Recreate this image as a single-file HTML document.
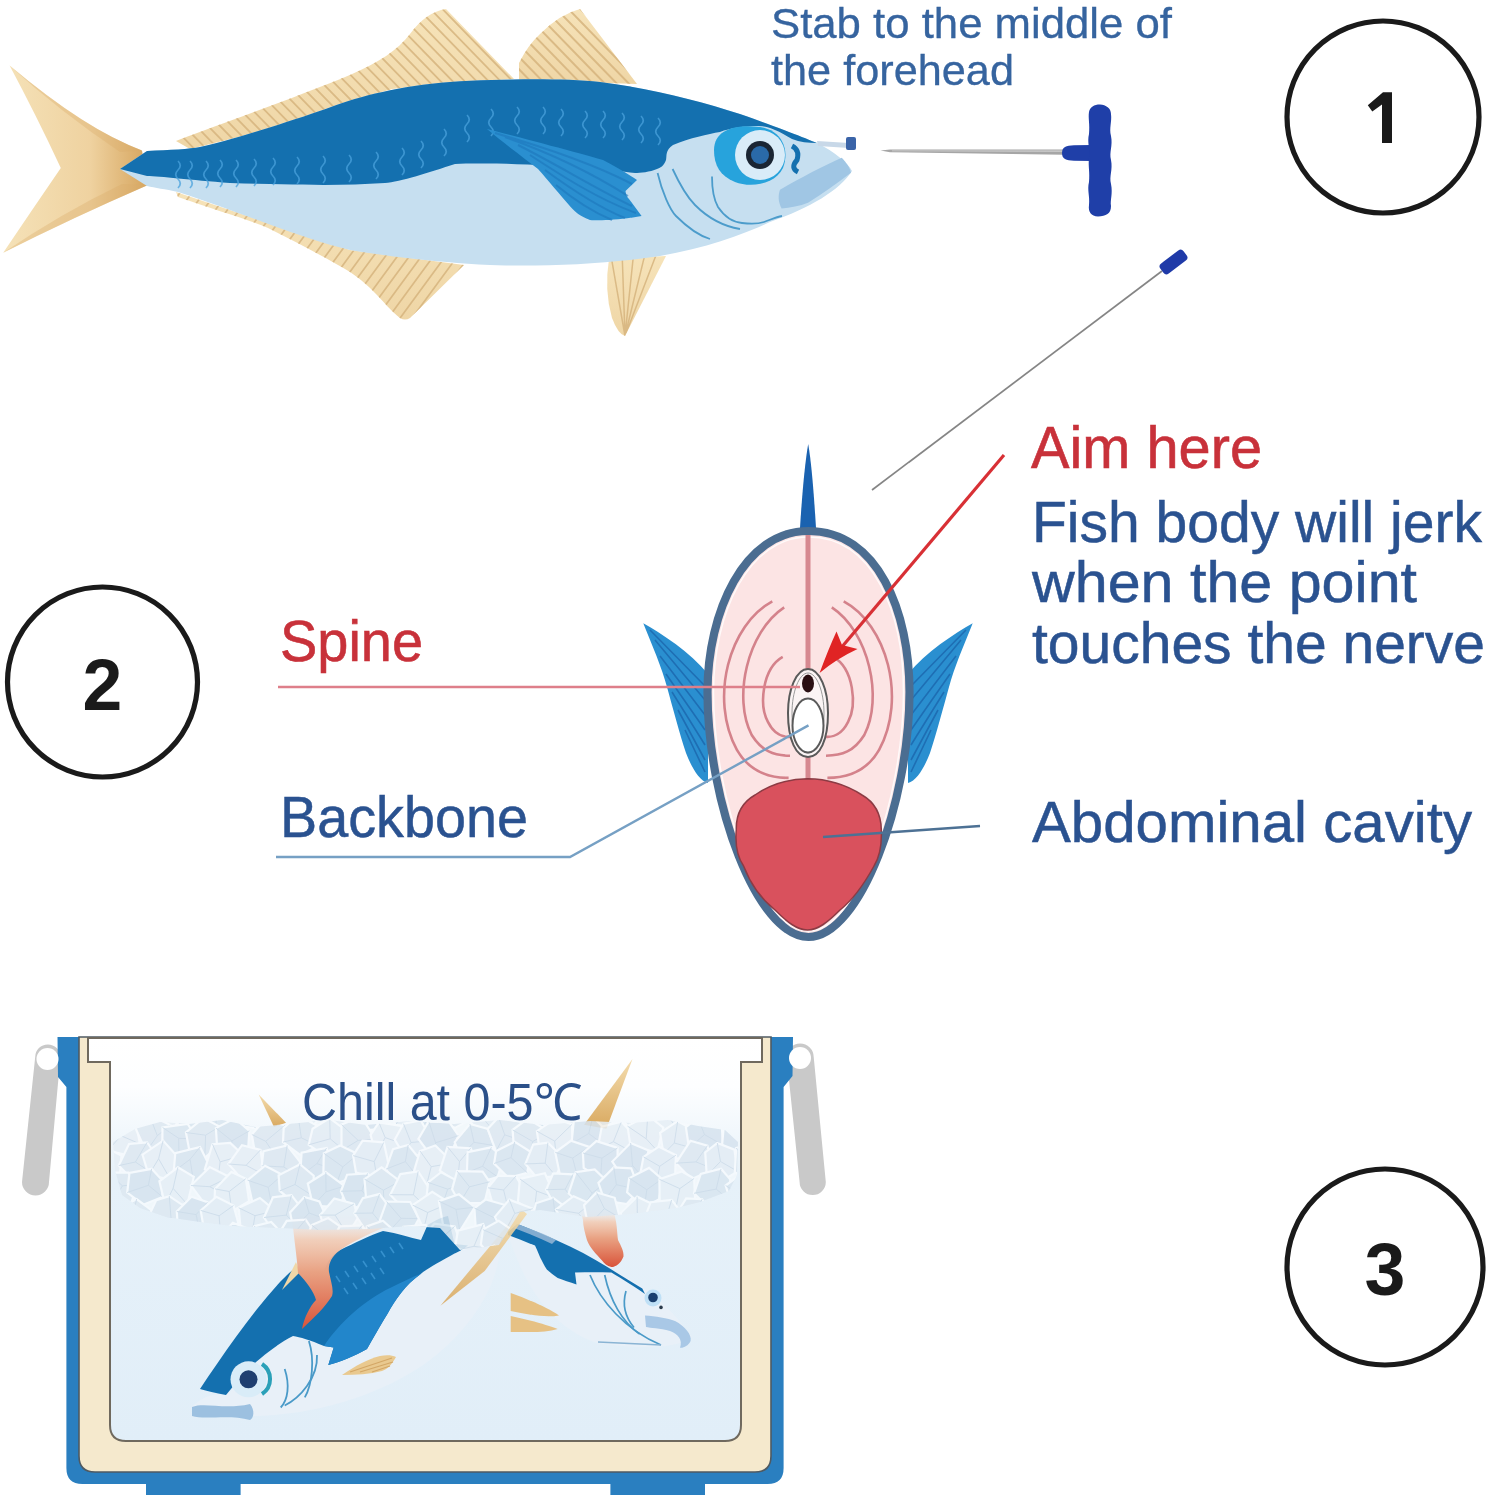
<!DOCTYPE html>
<html><head><meta charset="utf-8">
<style>
html,body{margin:0;padding:0;background:#fff;width:1490px;height:1500px;overflow:hidden}
svg{display:block}
text{font-family:"Liberation Sans",sans-serif}
</style></head>
<body>
<svg width="1490" height="1500" viewBox="0 0 1490 1500">
<!-- ===== Step circles ===== -->
<g fill="none" stroke="#1a1a1a" stroke-width="5.2">
<circle cx="1383" cy="117" r="96"/>
<circle cx="102.5" cy="682" r="95"/>
<circle cx="1385" cy="1267" r="98"/>
</g>
<g font-family="Liberation Sans" font-weight="bold" fill="#1a1a1a" font-size="70" text-anchor="middle">
<text x="102.5" y="709.5" font-size="71.5">2</text>
<text x="1385" y="1295" font-size="73.5">3</text>
</g>


<!-- ===== Top fish ===== -->
<defs>
<linearGradient id="tailg" x1="0" y1="0" x2="1" y2="0">
<stop offset="0" stop-color="#f5e2b8"/><stop offset="0.6" stop-color="#efd2a0"/><stop offset="1" stop-color="#d6a55e"/>
</linearGradient>
<linearGradient id="fing" x1="0" y1="0" x2="0" y2="1">
<stop offset="0" stop-color="#f6e3b9"/><stop offset="1" stop-color="#efd6a6"/>
</linearGradient>
</defs>
<g id="topfish">
<!-- tail -->
<path d="M142,150.4 Q86,130 9.6,65.6 Q36,115 60.8,168 Q32,210 3.2,252.8 Q72,218 148,185 Z" fill="url(#tailg)"/>
<path d="M142,150.4 Q86,130 9.6,65.6 Q60,112 120,152 Z M148,185 Q72,218 3.2,252.8 Q60,214 122,184 Z" fill="#d9ac6a" opacity="0.35"/>
<!-- dorsal strip + first dorsal -->
<path d="M176,141 C220,124 300,96 351,74.5 C378,63 398,50 410,34 Q426,12 446,9 L514,79 L450,83 L392,89 L331,107 L271,129 L190,149 Z" fill="url(#fing)"/>
<!-- second dorsal -->
<path d="M519,63 Q528,45 540,34 Q560,14 580,9 L637,84 L519,80 Z" fill="url(#fing)"/>
<!-- anal strip -->
<path d="M176,192 L178,197 C215,210 250,220 268,228 C300,244 330,260 350,272 C362,280 368,286 373,291 C384,302 392,312 400,318 Q405,321 410,318 L464,265 L350,250 Z" fill="url(#fing)"/>
<!-- pelvic -->
<path d="M609,259 Q604,290 612,318 Q618,334 625,336 L666,256 Z" fill="url(#fing)"/>
<!-- fin rays -->
<clipPath id="cd1"><path d="M176,141 C220,124 300,96 351,74.5 C378,63 398,50 410,34 Q426,12 446,9 L514,79 L450,83 L392,89 L331,107 L271,129 L190,149 Z"/></clipPath>
<clipPath id="cd2"><path d="M519,63 Q528,45 540,34 Q560,14 580,9 L637,84 L519,80 Z"/></clipPath>
<clipPath id="can"><path d="M176,192 L178,197 C215,210 250,220 268,228 C300,244 330,260 350,272 C362,280 368,286 373,291 C384,302 392,312 400,318 Q405,321 410,318 L464,265 L350,250 Z"/></clipPath>
<clipPath id="cpv"><path d="M609,259 Q604,290 612,318 Q618,334 625,336 L666,256 Z"/></clipPath>
<g stroke="#d6b47e" fill="none" opacity="0.85">
<path clip-path="url(#cd1)" stroke-width="1.8" d="M40.0,-10 l170,175 M52.0,-10 l170,175 M64.0,-10 l170,175 M76.0,-10 l170,175 M88.0,-10 l170,175 M100.0,-10 l170,175 M112.0,-10 l170,175 M124.0,-10 l170,175 M136.0,-10 l170,175 M148.0,-10 l170,175 M160.0,-10 l170,175 M172.0,-10 l170,175 M184.0,-10 l170,175 M196.0,-10 l170,175 M208.0,-10 l170,175 M220.0,-10 l170,175 M232.0,-10 l170,175 M244.0,-10 l170,175 M256.0,-10 l170,175 M268.0,-10 l170,175 M280.0,-10 l170,175 M292.0,-10 l170,175 M304.0,-10 l170,175 M316.0,-10 l170,175 M328.0,-10 l170,175 M340.0,-10 l170,175 M352.0,-10 l170,175 M364.0,-10 l170,175 M376.0,-10 l170,175 M388.0,-10 l170,175 M400.0,-10 l170,175 M412.0,-10 l170,175 M424.0,-10 l170,175 M436.0,-10 l170,175 M448.0,-10 l170,175 M460.0,-10 l170,175 M472.0,-10 l170,175 M484.0,-10 l170,175 M496.0,-10 l170,175 M508.0,-10 l170,175 M520.0,-10 l170,175 M532.0,-10 l170,175"/>
<path clip-path="url(#cd2)" stroke-width="2" d="M430.0,-10 l100,103 M442.0,-10 l100,103 M454.0,-10 l100,103 M466.0,-10 l100,103 M478.0,-10 l100,103 M490.0,-10 l100,103 M502.0,-10 l100,103 M514.0,-10 l100,103 M526.0,-10 l100,103 M538.0,-10 l100,103 M550.0,-10 l100,103 M562.0,-10 l100,103 M574.0,-10 l100,103 M586.0,-10 l100,103 M598.0,-10 l100,103 M610.0,-10 l100,103 M622.0,-10 l100,103 M634.0,-10 l100,103"/>
<path clip-path="url(#can)" stroke-width="1.7" d="M60.0,340 l110,-150 M72.0,340 l110,-150 M84.0,340 l110,-150 M96.0,340 l110,-150 M108.0,340 l110,-150 M120.0,340 l110,-150 M132.0,340 l110,-150 M144.0,340 l110,-150 M156.0,340 l110,-150 M168.0,340 l110,-150 M180.0,340 l110,-150 M192.0,340 l110,-150 M204.0,340 l110,-150 M216.0,340 l110,-150 M228.0,340 l110,-150 M240.0,340 l110,-150 M252.0,340 l110,-150 M264.0,340 l110,-150 M276.0,340 l110,-150 M288.0,340 l110,-150 M300.0,340 l110,-150 M312.0,340 l110,-150 M324.0,340 l110,-150 M336.0,340 l110,-150 M348.0,340 l110,-150 M360.0,340 l110,-150 M372.0,340 l110,-150 M384.0,340 l110,-150 M396.0,340 l110,-150 M408.0,340 l110,-150 M420.0,340 l110,-150 M432.0,340 l110,-150 M444.0,340 l110,-150 M456.0,340 l110,-150 M468.0,340 l110,-150 M480.0,340 l110,-150 M492.0,340 l110,-150 M504.0,340 l110,-150"/>
<path clip-path="url(#cpv)" stroke-width="1.5" d="M625,336 L610,250 M625,336 L622,250 M625,336 L634,250 M625,336 L646,250 M625,336 L658,250"/>
</g>
<!-- body light -->
<path d="M120,169 L147,151 C170,150 190,149 200,147 C240,138 300,118 331,107 C360,96 400,86 450,82 C500,79 560,78 600,82 C650,88 700,101 740,114 C780,128 805,138 817,143 C835,152 848,163 852,171 C840,190 810,208 770,222 C740,236 705,248 660,256 C610,264 540,267 490,265 C430,262 380,255 350,250 C300,238 240,212 178,192 C165,189 155,188 147,186 Z" fill="#c6dff0"/>
<!-- body blue -->
<path d="M120,169 L147,151 C170,150 190,149 200,147 C240,138 300,118 331,107 C360,96 400,86 450,82 C500,79 560,78 600,82 C650,88 700,101 740,114 C780,128 805,138 817,143 C808,143 800,142 792,139 C780,132 770,126 758,126 C745,126 730,128 720,132 C708,134 690,138 673,145 C665,150 667,156 666,160 C664,166 660,168 657,169 C650,172 640,173 635,173 C610,170 580,167 560,166 C520,164 480,163 455,164 C430,172 400,182 385,183 C340,186 300,185 230,183 C190,180 160,176 147,176 Z" fill="#1470af"/>
<!-- scale squiggles -->
<g fill="none" stroke="#4aa2dc" stroke-width="1.7" opacity="0.75"><path d="M178,161 q4.5,4.5 0,9 q-4.5,4.5 0,9 q4.5,4.5 0,9 M190,161 q4.5,4.5 0,9 q-4.5,4.5 0,9 q4.5,4.5 0,9 M206,161 q4.5,4.5 0,9 q-4.5,4.5 0,9 q4.5,4.5 0,9 M220,160 q4.5,4.5 0,9 q-4.5,4.5 0,9 q4.5,4.5 0,9 M236,160 q4.5,4.5 0,9 q-4.5,4.5 0,9 q4.5,4.5 0,9 M254,159 q4.5,4.5 0,9 q-4.5,4.5 0,9 q4.5,4.5 0,9 M273,158 q4.5,4.5 0,9 q-4.5,4.5 0,9 q4.5,4.5 0,9 M297,157 q4.5,4.5 0,9 q-4.5,4.5 0,9 q4.5,4.5 0,9 M323,156 q4.5,4.5 0,9 q-4.5,4.5 0,9 q4.5,4.5 0,9 M349,155 q4.5,4.5 0,9 q-4.5,4.5 0,9 q4.5,4.5 0,9 M376,152 q4.5,4.5 0,9 q-4.5,4.5 0,9 q4.5,4.5 0,9 M402,148 q4.5,4.5 0,9 q-4.5,4.5 0,9 q4.5,4.5 0,9 M421,141 q4.5,4.5 0,9 q-4.5,4.5 0,9 q4.5,4.5 0,9 M444,129 q4.5,4.5 0,9 q-4.5,4.5 0,9 q4.5,4.5 0,9 M467,115 q4.5,4.5 0,9 q-4.5,4.5 0,9 q4.5,4.5 0,9 M491,109 q4.5,4.5 0,9 q-4.5,4.5 0,9 q4.5,4.5 0,9 M517,107 q4.5,4.5 0,9 q-4.5,4.5 0,9 q4.5,4.5 0,9 M543,107 q4.5,4.5 0,9 q-4.5,4.5 0,9 q4.5,4.5 0,9 M561,109 q4.5,4.5 0,9 q-4.5,4.5 0,9 q4.5,4.5 0,9 M585,111 q4.5,4.5 0,9 q-4.5,4.5 0,9 q4.5,4.5 0,9 M603,111 q4.5,4.5 0,9 q-4.5,4.5 0,9 q4.5,4.5 0,9 M622,113 q4.5,4.5 0,9 q-4.5,4.5 0,9 q4.5,4.5 0,9 M641,116 q4.5,4.5 0,9 q-4.5,4.5 0,9 q4.5,4.5 0,9 M658,118 q4.5,4.5 0,9 q-4.5,4.5 0,9 q4.5,4.5 0,9"/></g>
<!-- pectoral fin -->
<path d="M487,129 C530,140 575,152 603,160 C615,166 628,174 637,180 L625.5,191 C626,195 627,197 629,199 L641.6,216 C620,220 600,221 590,220 C580,216 575,212 570.7,207 C560,195 548,180 538,169 C520,155 500,140 487,129 Z" fill="#2a8fd0"/>
<g stroke="#1b74ba" stroke-width="2" fill="none" opacity="0.55">
<path d="M495,133 C540,146 590,162 632,184 M505,137 C550,153 595,175 628,196 M518,145 C558,165 598,190 632,206 M530,155 C565,178 600,200 636,213 M545,170 C575,192 605,210 625,218 M556,185 C578,203 600,215 612,220"/>
</g>
<!-- head details -->
<path d="M657.6,173 C662,192 670,210 676,216 C688,228 700,236 710,239 M672.6,169 C680,185 688,198 695,205 C708,218 722,226 740,229" fill="none" stroke="#4c9ccb" stroke-width="1.8"/>
<path d="M712,176.5 C712,190 714,200 718,207 C724,216 732,222 742,223 C750,224 758,224 764,222 C770,220 776,217 782,216" fill="none" stroke="#4c9ccb" stroke-width="1.8"/>
<path d="M780,189.7 C800,178 825,165 841.8,157.7 C846,162 850,168 851,172.8 C836,184 822,194 808,202.8 C800,206 790,208 781.6,208.5 C778,202 778,195 780,189.7 Z" fill="#a0c6e4"/>
<!-- eye -->
<path d="M714,150 C714,130 735,124 760,127 C782,130 790,150 783,168 C775,185 750,188 735,182 C720,176 714,165 714,150 Z" fill="#27a3dc"/>
<circle cx="760" cy="155" r="25" fill="#d9ecf8"/>
<circle cx="760" cy="155" r="14" fill="#1a2533"/>
<circle cx="760" cy="155" r="9" fill="#2a6aa8"/>
<path d="M792,146 Q800,150 797,160 Q790,168 798,172" fill="none" stroke="#1470af" stroke-width="5"/>
<!-- pin -->
<path d="M817,141 L849,143 L849,148 L818,146 Z" fill="#c8d8e8"/>
<rect x="846" y="137" width="10" height="13" rx="2" fill="#3a64a8"/>
</g>


<!-- ===== T-handle spike ===== -->
<g id="spike">
<path d="M880.5,150.5 L890,149.6 L1064,149.6 L1064,154.8 L890,152.2 Z" fill="#a6a6a6"/>
<path d="M892,150.4 L1064,150.6 L1064,151.8 L892,151.2 Z" fill="#d2d2d2"/>
<path d="M1062,153 C1062,147 1066,145.5 1074,145.3 L1092,145 L1092,161 L1074,160.8 C1066,160.5 1062,159 1062,153 Z" fill="#1f3fa8"/>
<path d="M1100,104.5 C1106,105 1111,108 1111,114 C1112,122 1109,128 1111,136 C1113,146 1109,152 1111,160 C1113,170 1109,176 1111,184 C1113,194 1110,200 1111,206 C1111,214 1106,216 1098,216.5 C1091,216 1088,212 1089,205 C1090,196 1087,190 1089,182 C1090,172 1088,166 1089,158 C1090,148 1087,142 1089,134 C1090,124 1088,118 1089,112 C1090,107 1094,104.5 1100,104.5 Z" fill="#1f3fa8"/>
</g>
<!-- ===== wire ===== -->
<line x1="872" y1="490" x2="1162" y2="271" stroke="#858585" stroke-width="1.7"/>
<rect x="-14.5" y="-6.3" width="29" height="12.6" rx="3.8" fill="#1f3aa8" transform="translate(1173.5,262) rotate(-37)"/>

<!-- ===== Cross section ===== -->
<g id="xsec">
<!-- fins -->
<path d="M643.3,623.3 C662,634 690,652 708,674 L708,783 C699,781 691,766 686,753 C680,735 672,705 667,687 C662,668 652,645 643.3,623.3 Z" fill="#2a8fd0"/>
<path d="M972.7,623.3 C954,634 926,652 908,674 L908,783 C917,781 925,766 930,753 C936,735 944,705 949,687 C954,668 964,645 972.7,623.3 Z" fill="#2a8fd0"/>
<g stroke="#1d6ab0" stroke-width="1.6" fill="none" opacity="0.9">
<path d="M655,640 L705,700 M660,656 L705,715 M666,674 L705,730 M672,692 L705,745 M678,710 L705,760 M685,730 L705,772 M650,630 L705,686"/>
<path d="M961,640 L911,700 M956,656 L911,715 M950,674 L911,730 M944,692 L911,745 M938,710 L911,760 M931,730 L911,772 M966,630 L911,686"/>
</g>
<!-- dorsal spike -->
<path d="M800,528 C802,495 805,462 808.2,444 C811.4,462 814,495 816,528 Z" fill="#1a62b0"/>
<!-- egg body -->
<path d="M808.5,531 C878,531 909.5,612 909.5,692 C909.5,802 860,937 808.5,937 C757,937 707.5,802 707.5,692 C707.5,612 744,531 808.5,531 Z" fill="#fce4e4" stroke="#4b6d91" stroke-width="8.2"/>
<path d="M808.5,537 C874,537 903.5,614 903.5,692 C903.5,799 857,931 808.5,931 C760,931 713.5,799 713.5,692 C713.5,614 748,537 808.5,537 Z" fill="none" stroke="#ffffff" stroke-width="1.5" opacity="0.8"/>
<!-- red arcs -->
<g fill="none" stroke="#d4828b" stroke-width="2.6">
<path d="M772.3,601.4 C729.5,624.3 708.9,698.1 736.9,749.8 C748.7,770.5 766.4,777.9 788.6,777.9"/>
<path d="M784.2,607.3 C747.2,631.7 732.5,698.1 751.7,735 C762,751.3 773.8,755.7 790,755.7"/>
<path d="M782.7,656.8 C762,668.6 759,705.5 767.9,721.8 C773.8,733.6 782.7,738 791.5,736.6"/>
<path d="M843.7,601.4 C886.5,624.3 907.1,698.1 879.1,749.8 C867.3,770.5 849.6,777.9 827.4,777.9"/>
<path d="M831.8,607.3 C868.8,631.7 883.5,698.1 864.3,735 C854,751.3 842.2,755.7 826,755.7"/>
<path d="M833.3,656.8 C854,668.6 857,705.5 848.1,721.8 C842.2,733.6 833.3,738 824.5,736.6"/>
</g>
<line x1="808" y1="535" x2="808" y2="780" stroke="#d68890" stroke-width="5"/>
<!-- abdominal cavity -->
<path d="M807.6,778.8 C830,779 848,786 862,795 C876,803 881,815 881.3,829.5 C882,845 879,858 874,866 C862,888 850,902 840,910 C828,922 818,930 807.6,930 C797,930 787,922 775,910 C765,902 752,888 743.6,866 C738,858 735,845 736.3,829.5 C736,815 741,803 755,795 C768,786 786,779 807.6,778.8 Z" fill="#d9515d" stroke="#8c3b44" stroke-width="1.5"/>
<!-- canal -->
<path d="M808,669 C820,669 828,690 828,713 C828,740 820,757 808,757 C796,757 788,740 788,713 C788,690 796,669 808,669 Z" fill="#fbf4f4" stroke="#5a5a5a" stroke-width="2"/>
<path d="M808,673 C817,673 824,692 824,713 C824,737 817,753 808,753 C799,753 792,737 792,713 C792,692 799,673 808,673 Z" fill="none" stroke="#9a9a9a" stroke-width="1"/>
<ellipse cx="808" cy="725.5" rx="15.5" ry="27" fill="#ffffff" stroke="#5a5a5a" stroke-width="2"/>
<ellipse cx="808" cy="683.5" rx="6" ry="9" fill="#2a0f12"/>
</g>
<!-- leader lines -->
<line x1="278" y1="687" x2="800" y2="687" stroke="#de7f8a" stroke-width="2.4"/>
<path d="M808.5,725.4 L570,857 L276,857" fill="none" stroke="#76a0c4" stroke-width="2.4"/>
<line x1="823" y1="837" x2="980" y2="826" stroke="#4d7194" stroke-width="2.5"/>
<!-- red arrow -->
<line x1="1004" y1="455" x2="841" y2="648" stroke="#d83035" stroke-width="3.2"/>
<path d="M819.6,673 Q828,650 836.5,631.5 L842,645 L857.5,649 Q836,659 819.6,673 Z" fill="#e02424"/>


<!-- ===== Cooler ===== -->
<defs>
<linearGradient id="water" x1="0" y1="0" x2="0" y2="1">
<stop offset="0" stop-color="#ffffff"/><stop offset="0.12" stop-color="#fdfeff"/><stop offset="0.35" stop-color="#e6f1f9"/><stop offset="1" stop-color="#e1eef8"/>
</linearGradient>
<linearGradient id="flame" x1="0" y1="0" x2="0" y2="1">
<stop offset="0" stop-color="#f8e4d6" stop-opacity="0"/><stop offset="0.22" stop-color="#f3c9b0" stop-opacity="0.85"/><stop offset="0.5" stop-color="#e9a283"/><stop offset="1" stop-color="#d9543a"/>
</linearGradient>
<linearGradient id="spikeg" x1="0" y1="0" x2="0" y2="1">
<stop offset="0" stop-color="#f3dcae"/><stop offset="1" stop-color="#d9a960"/>
</linearGradient>
</defs>
<g id="cooler">
<!-- handles -->
<g fill="#c9c9c9">
<path d="M35.2,1057 A12.6,12.6 0 0 1 60.4,1057 L49,1182 A13.5,13.5 0 0 1 22,1182 Z"/>
<path d="M786.6,1057 A13.5,13.5 0 0 1 813.7,1057 L825.8,1182 A13.1,13.1 0 0 1 799.6,1182 Z"/>
</g>
<!-- blue shell -->
<path d="M57.5,1037 L793,1037 L792.5,1076 L783.6,1087 L783.6,1468 Q783.6,1484 767.6,1484 L82.4,1484 Q66.4,1484 66.4,1468 L66.4,1087 L58,1077 Z" fill="#2a7fc0"/>
<rect x="146" y="1480" width="94.6" height="15" fill="#2a7fc0"/>
<rect x="610.4" y="1480" width="94.6" height="15" fill="#2a7fc0"/>
<circle cx="47.5" cy="1059" r="11" fill="#ffffff"/>
<circle cx="800" cy="1058" r="11" fill="#ffffff"/>
<!-- cream wall -->
<path d="M79,1037 L771,1037 L771,1456 Q771,1472 755,1472 L95,1472 Q79,1472 79,1456 Z" fill="#f5e9cd" stroke="#4f5a62" stroke-width="1.6"/>
<!-- interior -->
<path d="M88,1038 L88,1062 L110,1062 L110,1425 Q110,1441 126,1441 L725,1441 Q741,1441 741,1425 L741,1062 L762,1062 L762,1038 Z" fill="url(#water)" stroke="#6f695e" stroke-width="2"/>
<!-- spikes above ice -->
<path d="M258.7,1094.5 L286,1122.7 L274,1127 Z" fill="url(#spikeg)"/>
<path d="M632.5,1059 L606.4,1128.7 L584,1124.7 Z" fill="url(#spikeg)"/>
<!-- fish 1 (diving left) -->
<path d="M192,1407 C200,1398 215,1392 226,1395 C240,1385 270,1345 293,1335 C310,1335 318,1340 324,1346 C350,1320 390,1290 421,1274 C440,1262 455,1250 466,1245 L500,1232 C505,1280 470,1330 430,1360 C390,1390 340,1405 300,1412 C260,1418 220,1418 192,1407 Z" fill="#e8f0f8"/>
<path d="M200,1389 C222,1356 250,1315 280,1282 C286,1276 292,1270 297,1267 L314,1292 L328,1262 C332,1256 336,1252 340,1250 C355,1243 370,1235 383,1231 C398,1233 410,1238 421,1240 L427.6,1225 C436,1220 442,1217 448,1216 L454.5,1244 L468,1245.5 C462,1250 458,1252 454.5,1253.6 C440,1262 428,1268 421,1273.7 C405,1285 395,1300 387.4,1314 C380,1326 372,1340 367,1349 C355,1356 340,1362 328.3,1365 L333.7,1347.5 L324,1346 C310,1340 300,1337 293,1336 C275,1345 258,1360 246,1371 C238,1380 232,1388 226,1395 C215,1393 207,1391 200,1389 Z" fill="#1470af"/>
<path d="M324,1346 C340,1322 365,1300 390,1288 C402,1282 412,1277 421,1273.7 C405,1285 395,1300 387.4,1314 C380,1326 372,1340 367,1349 C355,1356 340,1362 328.3,1365 L333.7,1347.5 Z" fill="#2286cb"/>
<g fill="none" stroke="#3f9ad6" stroke-width="1.6" opacity="0.8">
<path d="M336,1276 l4,6 M345,1271 l4,6 M354,1266 l4,6 M363,1261 l4,6 M372,1256 l4,6 M381,1251 l4,6 M390,1247 l4,6 M399,1243 l4,6 M344,1288 l4,6 M353,1283 l4,6 M362,1278 l4,6 M371,1273 l4,6 M380,1268 l4,6"/>
</g>
<!-- fish1 gill lines -->
<g fill="none" stroke="#4a9ac8" stroke-width="1.8">
<path d="M308.9,1341 C315,1360 312,1385 304.8,1397.4"/>
<path d="M317,1355 C318,1378 300,1398 284.7,1405.5"/>
<path d="M284.7,1369 C290,1385 288,1400 280.7,1407.5"/>
</g>
<path d="M192,1407 C205,1402 225,1410 250,1404 C255,1410 254,1418 250,1420 C230,1414 205,1420 192,1416 Z" fill="#9cc0e0"/>
<circle cx="248.5" cy="1379.3" r="18" fill="#d9ecf8"/>
<path d="M262,1364 A18,18 0 0 1 262,1394" fill="none" stroke="#2aa0b8" stroke-width="4"/>
<circle cx="248.5" cy="1379.3" r="9" fill="#1f3f70"/>
<!-- fish 2 (diving right) -->
<path d="M510.5,1236 C540,1250 580,1262 611,1270 C640,1282 665,1300 691.7,1337 C680,1348 640,1350 597,1343 C560,1330 530,1300 510,1240 Z" fill="#e8f0f8"/>
<path d="M508,1232 L517.4,1224 C530,1229 545,1235 556.4,1240.3 C575,1248 592,1258 607.4,1267 C620,1275 632,1282 642.3,1288.6 L645,1294 C635,1287 622,1279 611.4,1272.5 C600,1272 588,1272 575,1272.5 L576.5,1284.6 C570,1282 563,1280 557.7,1277.9 C553,1275 550,1272 547,1269.8 C544,1265 542,1261 540.3,1257.7 C538,1252 536,1248 535,1245.6 C526,1242 517,1238 508,1235 Z" fill="#1470af"/>
<path d="M517.4,1224 C530,1229 545,1234 556,1240 L552,1244 C540,1238 527,1233 514,1228 Z" fill="#9dbbd8" opacity="0.8"/>
<g fill="none" stroke="#4a9ac8" stroke-width="1.7">
<path d="M590,1275 C600,1300 625,1330 661,1345"/>
<path d="M604.7,1275 C610,1300 622,1322 639.6,1334"/>
<path d="M626,1291 C622,1305 626,1318 634,1327.5"/>
</g>
<path d="M598,1342 L661,1345" fill="none" stroke="#8ab4d4" stroke-width="1.6"/>
<path d="M645,1315.4 C655,1316 668,1318 675,1321 C685,1326 692,1335 690.6,1341 C688,1346 684,1348 680,1347.7 C683,1340 678,1334 670,1331 C660,1328 650,1328 646,1327 Z" fill="#a9c8e6"/>
<circle cx="653" cy="1298" r="8.5" fill="#bfe0f6"/>
<circle cx="653" cy="1297.5" r="4.8" fill="#1a3f6e"/>
<circle cx="661" cy="1307.4" r="1.8" fill="#2a3a4a"/>
<!-- yellow fins -->
<path d="M342,1375 C355,1366 368,1359 380,1356 C386,1355 392,1355 396,1357 C392,1364 388,1369 382,1371 C370,1374 356,1375 342,1375 Z" fill="#e9c98f"/>
<path d="M350,1372 L392,1358 M360,1372 L393,1362 M372,1372 L390,1366" stroke="#d3a766" stroke-width="1.2" fill="none"/>
<path d="M440.4,1305.7 L521,1209 L527,1214 L484.7,1271 Z" fill="url(#spikeg)" opacity="0.9"/>
<path d="M510.7,1293 C530,1300 548,1308 559,1315.4 C545,1318 525,1314 510.7,1311 Z" fill="#e6c184"/>
<path d="M510.7,1316 C530,1320 548,1325 557.7,1329 C545,1333 525,1332 510.7,1332 Z" fill="#e6c184"/>
<!-- flames -->
<path d="M282,1290 L296,1262 L300,1272 Z" fill="#f0d7a8"/>
<path d="M292,1218 C315,1212 360,1212 388,1226 C368,1234 348,1244 339,1251 C331,1257 328,1265 329,1272 C331,1282 334,1290 332,1296 C326,1306 314,1318 302,1329 C304,1318 310,1306 316,1300 C314,1292 306,1281 298,1273 C297,1258 294,1238 292,1218 Z" fill="url(#flame)"/>
<path d="M580.5,1210.7 C592,1208 605,1209 614,1213.4 C617,1222 617,1232 618,1240 C621,1246 624,1251 623.5,1256.4 C621,1263 616,1267 611.4,1267 C607,1266 604,1263 602,1260.4 C596,1254 590,1248 587,1240.3 C585,1233 583,1226 583,1220 Z" fill="url(#flame)"/>
<!-- ice band -->
<clipPath id="iceclip"><path d="M113,1142 L135,1129 L160,1122 L189,1124 L222,1120 L255,1127 L299,1123 L330,1120 L366,1125 L410,1121 L454,1124 L500,1120 L543,1125 L590,1121 L631,1123 L668,1120 L698,1126 L725,1130 L738,1142 L737,1175 L729,1191 L700,1202 L676,1208 L630,1214 L587,1217 L540,1210 L520,1212 L499,1245 L460,1250 L440,1228 L410,1226 L370,1229 L321,1230 L280,1228 L233,1226 L200,1222 L166,1217 L140,1208 L122,1195 L115,1170 Z"/></clipPath>
<g clip-path="url(#iceclip)" opacity="0.88">
<rect x="100" y="1110" width="650" height="130" fill="#f2f7fb"/>
<g stroke="#f6fafd" stroke-width="2.2">
<path d="M83.8,1117.5 L86.2,1099.1 L104.4,1089.6 L119.5,1099.4 L117.6,1121.1 L99.3,1127.7 Z" fill="#dde8f1"/>
<path d="M99.3,1127.7 L99.9,1107.3 L86.2,1099.1 M99.9,1107.3 L119.5,1099.4" fill="none" stroke="#c9d9e8" stroke-width="0.9"/>
<path d="M154.3,1115.4 L143.3,1127.0 L121.1,1120.3 L116.2,1107.4 L128.5,1091.8 L146.2,1093.5 Z" fill="#e3ecf4"/>
<path d="M121.1,1120.3 L137.0,1108.8 L128.5,1091.8 M137.0,1108.8 L154.3,1115.4" fill="none" stroke="#c9d9e8" stroke-width="0.9"/>
<path d="M175.7,1125.6 L158.5,1128.1 L146.7,1115.2 L153.6,1094.2 L169.4,1092.0 L182.6,1111.6 Z" fill="#e6eef5"/>
<path d="M182.6,1111.6 L164.2,1113.6 L158.5,1128.1 M164.2,1113.6 L153.6,1094.2" fill="none" stroke="#c9d9e8" stroke-width="0.9"/>
<path d="M170.5,1115.2 L176.5,1098.1 L200.2,1095.0 L209.6,1107.1 L197.5,1131.0 L184.2,1131.6 Z" fill="#d9e5ef"/>
<path d="M209.6,1107.1 L186.2,1108.7 L184.2,1131.6 M186.2,1108.7 L176.5,1098.1" fill="none" stroke="#c9d9e8" stroke-width="0.9"/>
<path d="M200.3,1117.8 L201.9,1101.7 L220.0,1093.0 L235.4,1103.6 L232.6,1127.0 L215.6,1130.1 Z" fill="#d9e5ef"/>
<path d="M201.9,1101.7 L217.0,1107.5 L235.4,1103.6 M217.0,1107.5 L215.6,1130.1" fill="none" stroke="#c9d9e8" stroke-width="0.9"/>
<path d="M267.8,1112.2 L255.2,1128.0 L235.9,1125.5 L228.1,1106.3 L242.3,1090.6 L261.6,1096.5 Z" fill="#d6e3ee"/>
<path d="M255.2,1128.0 L249.2,1110.5 L228.1,1106.3 M249.2,1110.5 L261.6,1096.5" fill="none" stroke="#c9d9e8" stroke-width="0.9"/>
<path d="M265.3,1126.5 L261.4,1110.2 L273.7,1095.2 L296.6,1102.6 L300.5,1120.2 L285.4,1135.1 Z" fill="#d6e3ee"/>
<path d="M300.5,1120.2 L283.6,1117.1 L265.3,1126.5 M283.6,1117.1 L273.7,1095.2" fill="none" stroke="#c9d9e8" stroke-width="0.9"/>
<path d="M327.4,1111.5 L308.8,1129.0 L294.7,1122.8 L287.7,1108.3 L300.8,1092.1 L320.2,1096.7 Z" fill="#d6e3ee"/>
<path d="M300.8,1092.1 L304.1,1110.0 L327.4,1111.5 M304.1,1110.0 L294.7,1122.8" fill="none" stroke="#c9d9e8" stroke-width="0.9"/>
<path d="M357.2,1126.6 L335.3,1133.1 L320.9,1118.9 L328.3,1101.9 L347.1,1096.0 L361.7,1112.6 Z" fill="#e3ecf4"/>
<path d="M357.2,1126.6 L342.7,1114.2 L320.9,1118.9 M342.7,1114.2 L347.1,1096.0" fill="none" stroke="#c9d9e8" stroke-width="0.9"/>
<path d="M366.3,1130.2 L349.9,1114.3 L357.0,1098.5 L378.3,1092.3 L389.9,1106.7 L382.1,1129.2 Z" fill="#d6e3ee"/>
<path d="M349.9,1114.3 L369.3,1107.9 L378.3,1092.3 M369.3,1107.9 L382.1,1129.2" fill="none" stroke="#c9d9e8" stroke-width="0.9"/>
<path d="M424.9,1109.2 L409.7,1127.1 L395.5,1124.9 L386.0,1104.0 L396.4,1091.6 L416.0,1090.8 Z" fill="#e3ecf4"/>
<path d="M396.4,1091.6 L406.8,1108.4 L424.9,1109.2 M406.8,1108.4 L395.5,1124.9" fill="none" stroke="#c9d9e8" stroke-width="0.9"/>
<path d="M421.9,1128.4 L415.3,1104.6 L428.9,1091.0 L450.6,1104.3 L445.8,1124.2 Z" fill="#d9e5ef"/>
<path d="M421.9,1128.4 L435.3,1106.3 L428.9,1091.0 M435.3,1106.3 L445.8,1124.2" fill="none" stroke="#c9d9e8" stroke-width="0.9"/>
<path d="M438.2,1121.8 L437.9,1096.6 L453.6,1089.7 L473.0,1097.9 L470.9,1119.4 L455.0,1127.9 Z" fill="#dde8f1"/>
<path d="M453.6,1089.7 L451.7,1111.6 L470.9,1119.4 M451.7,1111.6 L438.2,1121.8" fill="none" stroke="#c9d9e8" stroke-width="0.9"/>
<path d="M480.0,1134.9 L467.0,1116.9 L475.8,1096.6 L492.9,1097.8 L505.3,1114.6 L495.0,1132.2 Z" fill="#e3ecf4"/>
<path d="M495.0,1132.2 L482.6,1118.0 L467.0,1116.9 M482.6,1118.0 L492.9,1097.8" fill="none" stroke="#c9d9e8" stroke-width="0.9"/>
<path d="M515.2,1132.8 L501.0,1125.2 L498.3,1103.2 L511.0,1093.8 L528.9,1098.6 L530.1,1122.7 Z" fill="#e3ecf4"/>
<path d="M498.3,1103.2 L514.0,1114.0 L528.9,1098.6 M514.0,1114.0 L515.2,1132.8" fill="none" stroke="#c9d9e8" stroke-width="0.9"/>
<path d="M565.5,1118.1 L541.0,1129.3 L527.6,1115.4 L543.9,1091.9 L560.1,1096.6 Z" fill="#dde8f1"/>
<path d="M541.0,1129.3 L546.9,1107.7 L543.9,1091.9 M546.9,1107.7 L565.5,1118.1" fill="none" stroke="#c9d9e8" stroke-width="0.9"/>
<path d="M582.0,1126.4 L567.8,1127.4 L556.3,1107.2 L567.1,1092.2 L589.9,1093.9 L595.7,1111.2 Z" fill="#d6e3ee"/>
<path d="M589.9,1093.9 L577.7,1111.4 L582.0,1126.4 M577.7,1111.4 L556.3,1107.2" fill="none" stroke="#c9d9e8" stroke-width="0.9"/>
<path d="M618.6,1118.0 L604.6,1128.8 L587.3,1124.9 L584.9,1101.2 L595.9,1089.8 L618.3,1097.1 Z" fill="#e6eef5"/>
<path d="M618.6,1118.0 L597.8,1113.1 L587.3,1124.9 M597.8,1113.1 L595.9,1089.8" fill="none" stroke="#c9d9e8" stroke-width="0.9"/>
<path d="M618.8,1114.9 L623.5,1097.0 L647.2,1093.0 L657.0,1111.5 L646.3,1128.5 L628.9,1127.7 Z" fill="#e3ecf4"/>
<path d="M623.5,1097.0 L637.5,1107.7 L657.0,1111.5 M637.5,1107.7 L628.9,1127.7" fill="none" stroke="#c9d9e8" stroke-width="0.9"/>
<path d="M643.0,1114.0 L650.0,1096.6 L667.3,1094.2 L681.3,1113.8 L676.5,1127.9 L658.6,1132.1 Z" fill="#e6eef5"/>
<path d="M667.3,1094.2 L666.4,1113.8 L676.5,1127.9 M666.4,1113.8 L643.0,1114.0" fill="none" stroke="#c9d9e8" stroke-width="0.9"/>
<path d="M697.0,1128.9 L674.9,1118.6 L676.6,1103.9 L692.0,1090.2 L708.8,1099.2 L711.9,1120.7 Z" fill="#e3ecf4"/>
<path d="M692.0,1090.2 L689.8,1109.1 L711.9,1120.7 M689.8,1109.1 L674.9,1118.6" fill="none" stroke="#c9d9e8" stroke-width="0.9"/>
<path d="M734.6,1129.7 L715.9,1131.5 L706.8,1115.2 L715.6,1096.1 L735.6,1096.4 L747.3,1113.5 Z" fill="#dde8f1"/>
<path d="M735.6,1096.4 L726.4,1111.1 L734.6,1129.7 M726.4,1111.1 L706.8,1115.2" fill="none" stroke="#c9d9e8" stroke-width="0.9"/>
<path d="M748.2,1130.7 L732.2,1123.3 L733.0,1107.3 L750.2,1093.2 L766.8,1103.9 L768.6,1121.6 Z" fill="#d9e5ef"/>
<path d="M768.6,1121.6 L747.2,1109.2 L732.2,1123.3 M747.2,1109.2 L750.2,1093.2" fill="none" stroke="#c9d9e8" stroke-width="0.9"/>
<path d="M795.6,1131.6 L772.2,1129.9 L763.4,1114.0 L772.0,1099.1 L789.3,1098.2 L801.7,1113.1 Z" fill="#dde8f1"/>
<path d="M789.3,1098.2 L786.3,1112.7 L795.6,1131.6 M786.3,1112.7 L763.4,1114.0" fill="none" stroke="#c9d9e8" stroke-width="0.9"/>
<path d="M107.7,1150.8 L101.9,1132.8 L115.7,1117.2 L136.0,1123.0 L139.9,1143.9 L124.8,1154.6 Z" fill="#e6eef5"/>
<path d="M107.7,1150.8 L121.0,1135.7 L115.7,1117.2 M121.0,1135.7 L139.9,1143.9" fill="none" stroke="#c9d9e8" stroke-width="0.9"/>
<path d="M166.9,1151.1 L146.1,1151.8 L135.2,1127.5 L149.3,1114.8 L170.4,1125.1 Z" fill="#dde8f1"/>
<path d="M170.4,1125.1 L157.3,1135.7 L146.1,1151.8 M157.3,1135.7 L149.3,1114.8" fill="none" stroke="#c9d9e8" stroke-width="0.9"/>
<path d="M197.4,1139.1 L179.0,1160.8 L162.2,1150.3 L162.5,1127.4 L187.7,1123.9 Z" fill="#d9e5ef"/>
<path d="M179.0,1160.8 L178.7,1138.3 L162.5,1127.4 M178.7,1138.3 L197.4,1139.1" fill="none" stroke="#c9d9e8" stroke-width="0.9"/>
<path d="M204.8,1157.5 L189.1,1149.1 L185.9,1132.5 L203.4,1118.0 L219.6,1126.6 L221.7,1144.2 Z" fill="#dde8f1"/>
<path d="M185.9,1132.5 L205.6,1135.2 L219.6,1126.6 M205.6,1135.2 L204.8,1157.5" fill="none" stroke="#c9d9e8" stroke-width="0.9"/>
<path d="M231.4,1158.4 L217.3,1150.5 L215.9,1128.1 L234.9,1118.3 L249.4,1130.8 L248.0,1150.6 Z" fill="#d6e3ee"/>
<path d="M215.9,1128.1 L231.9,1140.9 L249.4,1130.8 M231.9,1140.9 L231.4,1158.4" fill="none" stroke="#c9d9e8" stroke-width="0.9"/>
<path d="M275.5,1156.1 L255.0,1153.3 L251.8,1134.5 L264.2,1120.2 L285.0,1125.2 L288.9,1141.6 Z" fill="#dde8f1"/>
<path d="M275.5,1156.1 L265.7,1141.3 L251.8,1134.5 M265.7,1141.3 L285.0,1125.2" fill="none" stroke="#c9d9e8" stroke-width="0.9"/>
<path d="M283.0,1142.1 L283.7,1127.9 L298.0,1115.1 L319.0,1126.7 L318.5,1146.1 L300.1,1155.0 Z" fill="#dde8f1"/>
<path d="M283.0,1142.1 L301.3,1137.8 L298.0,1115.1 M301.3,1137.8 L318.5,1146.1" fill="none" stroke="#c9d9e8" stroke-width="0.9"/>
<path d="M342.8,1149.3 L327.0,1157.3 L308.7,1144.8 L312.6,1128.7 L329.7,1118.2 L344.6,1129.4 Z" fill="#e3ecf4"/>
<path d="M342.8,1149.3 L330.2,1138.8 L308.7,1144.8 M330.2,1138.8 L329.7,1118.2" fill="none" stroke="#c9d9e8" stroke-width="0.9"/>
<path d="M359.5,1157.2 L341.5,1150.6 L341.5,1124.6 L361.3,1116.7 L375.4,1139.1 Z" fill="#dde8f1"/>
<path d="M341.5,1124.6 L358.1,1140.4 L375.4,1139.1 M358.1,1140.4 L341.5,1150.6" fill="none" stroke="#c9d9e8" stroke-width="0.9"/>
<path d="M390.7,1162.3 L375.7,1155.1 L370.6,1134.8 L378.9,1122.4 L402.3,1126.1 L408.6,1145.8 Z" fill="#e6eef5"/>
<path d="M375.7,1155.1 L385.2,1137.6 L378.9,1122.4 M385.2,1137.6 L408.6,1145.8" fill="none" stroke="#c9d9e8" stroke-width="0.9"/>
<path d="M403.5,1154.0 L394.7,1139.6 L403.5,1123.7 L420.8,1120.5 L432.3,1140.6 L425.8,1155.9 Z" fill="#e3ecf4"/>
<path d="M403.5,1123.7 L411.0,1142.5 L432.3,1140.6 M411.0,1142.5 L403.5,1154.0" fill="none" stroke="#c9d9e8" stroke-width="0.9"/>
<path d="M449.6,1156.5 L433.3,1158.7 L418.4,1138.9 L428.8,1121.3 L449.1,1121.8 L458.5,1135.7 Z" fill="#d6e3ee"/>
<path d="M433.3,1158.7 L435.6,1142.8 L428.8,1121.3 M435.6,1142.8 L458.5,1135.7" fill="none" stroke="#c9d9e8" stroke-width="0.9"/>
<path d="M483.9,1158.0 L460.0,1156.6 L454.7,1142.1 L469.9,1124.0 L488.0,1129.0 L494.0,1145.5 Z" fill="#d9e5ef"/>
<path d="M494.0,1145.5 L474.0,1142.3 L460.0,1156.6 M474.0,1142.3 L469.9,1124.0" fill="none" stroke="#c9d9e8" stroke-width="0.9"/>
<path d="M513.5,1154.0 L496.0,1151.1 L487.6,1128.9 L498.6,1117.2 L521.1,1121.9 L524.3,1141.6 Z" fill="#dde8f1"/>
<path d="M496.0,1151.1 L504.7,1134.8 L498.6,1117.2 M504.7,1134.8 L524.3,1141.6" fill="none" stroke="#c9d9e8" stroke-width="0.9"/>
<path d="M529.5,1157.1 L514.2,1151.9 L512.6,1129.9 L527.7,1118.8 L549.8,1132.0 L545.3,1150.0 Z" fill="#dde8f1"/>
<path d="M549.8,1132.0 L532.7,1141.5 L529.5,1157.1 M532.7,1141.5 L512.6,1129.9" fill="none" stroke="#c9d9e8" stroke-width="0.9"/>
<path d="M572.7,1147.5 L556.4,1158.0 L539.4,1148.2 L536.9,1131.2 L555.5,1118.5 L572.0,1124.4 Z" fill="#e6eef5"/>
<path d="M556.4,1158.0 L554.7,1141.1 L536.9,1131.2 M554.7,1141.1 L572.0,1124.4" fill="none" stroke="#c9d9e8" stroke-width="0.9"/>
<path d="M604.3,1145.0 L586.5,1152.7 L571.5,1143.8 L573.9,1119.7 L592.9,1116.8 L605.3,1129.5 Z" fill="#d6e3ee"/>
<path d="M604.3,1145.0 L588.7,1133.5 L571.5,1143.8 M588.7,1133.5 L592.9,1116.8" fill="none" stroke="#c9d9e8" stroke-width="0.9"/>
<path d="M611.7,1160.3 L597.4,1150.1 L601.8,1126.6 L621.4,1121.7 L635.6,1136.7 L632.4,1152.1 Z" fill="#e6eef5"/>
<path d="M597.4,1150.1 L613.4,1141.7 L621.4,1121.7 M613.4,1141.7 L632.4,1152.1" fill="none" stroke="#c9d9e8" stroke-width="0.9"/>
<path d="M657.4,1151.0 L631.1,1150.1 L627.5,1126.1 L647.8,1115.2 L663.3,1127.6 Z" fill="#e6eef5"/>
<path d="M647.8,1115.2 L646.2,1138.8 L657.4,1151.0 M646.2,1138.8 L627.5,1126.1" fill="none" stroke="#c9d9e8" stroke-width="0.9"/>
<path d="M678.0,1158.8 L663.5,1154.0 L660.1,1132.8 L677.7,1121.2 L693.0,1129.6 L697.0,1149.3 Z" fill="#e3ecf4"/>
<path d="M663.5,1154.0 L674.3,1143.0 L677.7,1121.2 M674.3,1143.0 L697.0,1149.3" fill="none" stroke="#c9d9e8" stroke-width="0.9"/>
<path d="M710.5,1154.8 L689.0,1148.1 L685.9,1127.2 L697.8,1117.7 L721.9,1127.3 L722.9,1145.0 Z" fill="#d6e3ee"/>
<path d="M722.9,1145.0 L704.5,1134.6 L689.0,1148.1 M704.5,1134.6 L697.8,1117.7" fill="none" stroke="#c9d9e8" stroke-width="0.9"/>
<path d="M757.8,1143.6 L743.7,1158.2 L721.9,1147.4 L723.8,1125.8 L744.4,1122.9 Z" fill="#d6e3ee"/>
<path d="M744.4,1122.9 L739.9,1140.0 L743.7,1158.2 M739.9,1140.0 L723.8,1125.8" fill="none" stroke="#c9d9e8" stroke-width="0.9"/>
<path d="M773.8,1160.4 L751.3,1146.6 L753.9,1130.4 L770.4,1121.1 L788.1,1134.6 L786.0,1151.3 Z" fill="#dde8f1"/>
<path d="M753.9,1130.4 L768.7,1136.9 L788.1,1134.6 M768.7,1136.9 L773.8,1160.4" fill="none" stroke="#c9d9e8" stroke-width="0.9"/>
<path d="M774.1,1140.6 L779.9,1126.5 L799.6,1117.3 L815.1,1131.4 L806.8,1151.8 L787.6,1156.6 Z" fill="#dde8f1"/>
<path d="M806.8,1151.8 L791.0,1135.1 L774.1,1140.6 M791.0,1135.1 L799.6,1117.3" fill="none" stroke="#c9d9e8" stroke-width="0.9"/>
<path d="M88.4,1177.1 L89.5,1154.1 L103.2,1146.4 L121.4,1155.6 L119.6,1180.3 L100.4,1185.9 Z" fill="#e6eef5"/>
<path d="M119.6,1180.3 L105.2,1169.2 L88.4,1177.1 M105.2,1169.2 L103.2,1146.4" fill="none" stroke="#c9d9e8" stroke-width="0.9"/>
<path d="M118.7,1165.6 L129.0,1144.0 L147.1,1142.3 L156.5,1155.7 L153.7,1174.2 L133.8,1181.1 Z" fill="#dde8f1"/>
<path d="M118.7,1165.6 L135.4,1162.0 L147.1,1142.3 M135.4,1162.0 L153.7,1174.2" fill="none" stroke="#c9d9e8" stroke-width="0.9"/>
<path d="M148.7,1175.0 L142.5,1154.7 L163.1,1140.6 L178.7,1158.1 L170.6,1179.7 Z" fill="#e6eef5"/>
<path d="M148.7,1175.0 L158.6,1158.8 L163.1,1140.6 M158.6,1158.8 L170.6,1179.7" fill="none" stroke="#c9d9e8" stroke-width="0.9"/>
<path d="M210.7,1168.2 L193.8,1183.7 L173.7,1171.7 L175.3,1153.2 L200.1,1147.0 Z" fill="#d9e5ef"/>
<path d="M173.7,1171.7 L190.1,1159.3 L200.1,1147.0 M190.1,1159.3 L193.8,1183.7" fill="none" stroke="#c9d9e8" stroke-width="0.9"/>
<path d="M204.8,1169.4 L212.5,1144.2 L230.3,1143.0 L243.2,1155.3 L234.3,1176.1 L218.1,1178.9 Z" fill="#e6eef5"/>
<path d="M218.1,1178.9 L220.1,1161.9 L212.5,1144.2 M220.1,1161.9 L243.2,1155.3" fill="none" stroke="#c9d9e8" stroke-width="0.9"/>
<path d="M244.4,1181.9 L228.4,1164.0 L242.0,1145.2 L260.5,1149.9 L264.1,1174.8 Z" fill="#e6eef5"/>
<path d="M264.1,1174.8 L246.1,1165.3 L228.4,1164.0 M246.1,1165.3 L260.5,1149.9" fill="none" stroke="#c9d9e8" stroke-width="0.9"/>
<path d="M278.2,1184.4 L261.7,1165.8 L263.4,1151.3 L287.2,1145.4 L300.2,1162.2 L296.0,1174.8 Z" fill="#dde8f1"/>
<path d="M287.2,1145.4 L283.8,1167.0 L296.0,1174.8 M283.8,1167.0 L261.7,1165.8" fill="none" stroke="#c9d9e8" stroke-width="0.9"/>
<path d="M319.2,1183.7 L300.1,1176.4 L301.6,1152.6 L326.6,1148.0 L333.6,1169.3 Z" fill="#d6e3ee"/>
<path d="M333.6,1169.3 L316.9,1163.6 L300.1,1176.4 M316.9,1163.6 L326.6,1148.0" fill="none" stroke="#c9d9e8" stroke-width="0.9"/>
<path d="M336.6,1183.3 L323.4,1172.3 L323.8,1153.2 L340.2,1145.5 L358.2,1154.2 L356.2,1176.5 Z" fill="#d9e5ef"/>
<path d="M323.8,1153.2 L342.8,1166.9 L358.2,1154.2 M342.8,1166.9 L336.6,1183.3" fill="none" stroke="#c9d9e8" stroke-width="0.9"/>
<path d="M356.0,1172.5 L353.1,1155.6 L362.6,1140.7 L383.8,1142.4 L389.1,1166.6 L377.0,1177.7 Z" fill="#e3ecf4"/>
<path d="M353.1,1155.6 L374.2,1161.6 L383.8,1142.4 M374.2,1161.6 L377.0,1177.7" fill="none" stroke="#c9d9e8" stroke-width="0.9"/>
<path d="M419.5,1179.1 L398.3,1185.8 L385.8,1169.2 L393.0,1149.1 L408.2,1144.9 L421.0,1160.7 Z" fill="#d9e5ef"/>
<path d="M408.2,1144.9 L405.4,1161.6 L419.5,1179.1 M405.4,1161.6 L385.8,1169.2" fill="none" stroke="#c9d9e8" stroke-width="0.9"/>
<path d="M413.8,1171.9 L420.0,1151.0 L435.3,1145.5 L453.1,1162.9 L446.6,1181.1 L426.6,1184.9 Z" fill="#e6eef5"/>
<path d="M453.1,1162.9 L431.2,1166.7 L426.6,1184.9 M431.2,1166.7 L420.0,1151.0" fill="none" stroke="#c9d9e8" stroke-width="0.9"/>
<path d="M439.8,1170.6 L447.5,1146.8 L470.7,1148.2 L478.0,1164.7 L457.5,1182.7 Z" fill="#e3ecf4"/>
<path d="M470.7,1148.2 L459.5,1161.6 L457.5,1182.7 M459.5,1161.6 L447.5,1146.8" fill="none" stroke="#c9d9e8" stroke-width="0.9"/>
<path d="M466.9,1172.5 L467.6,1152.1 L491.4,1147.3 L503.4,1157.3 L497.7,1177.0 L479.8,1182.0 Z" fill="#d9e5ef"/>
<path d="M497.7,1177.0 L482.6,1166.3 L466.9,1172.5 M482.6,1166.3 L491.4,1147.3" fill="none" stroke="#c9d9e8" stroke-width="0.9"/>
<path d="M527.3,1172.8 L508.5,1177.7 L494.1,1163.5 L496.1,1151.0 L514.7,1141.8 L530.6,1151.9 Z" fill="#d9e5ef"/>
<path d="M514.7,1141.8 L511.0,1157.6 L527.3,1172.8 M511.0,1157.6 L494.1,1163.5" fill="none" stroke="#c9d9e8" stroke-width="0.9"/>
<path d="M525.4,1163.9 L533.1,1144.6 L547.9,1142.6 L564.4,1159.0 L555.8,1176.1 L537.2,1178.2 Z" fill="#e3ecf4"/>
<path d="M547.9,1142.6 L545.2,1163.2 L555.8,1176.1 M545.2,1163.2 L525.4,1163.9" fill="none" stroke="#c9d9e8" stroke-width="0.9"/>
<path d="M578.2,1179.2 L559.8,1174.2 L555.2,1152.3 L570.9,1140.8 L589.2,1146.9 L591.9,1165.0 Z" fill="#d9e5ef"/>
<path d="M555.2,1152.3 L572.6,1158.1 L589.2,1146.9 M572.6,1158.1 L578.2,1179.2" fill="none" stroke="#c9d9e8" stroke-width="0.9"/>
<path d="M600.6,1178.8 L583.7,1167.9 L582.9,1153.0 L596.4,1141.1 L617.6,1147.9 L617.6,1169.5 Z" fill="#d6e3ee"/>
<path d="M600.6,1178.8 L601.9,1158.2 L582.9,1153.0 M601.9,1158.2 L617.6,1147.9" fill="none" stroke="#c9d9e8" stroke-width="0.9"/>
<path d="M624.1,1179.2 L612.3,1161.6 L630.6,1143.0 L648.5,1150.5 L642.4,1177.0 Z" fill="#d6e3ee"/>
<path d="M624.1,1179.2 L632.5,1165.4 L630.6,1143.0 M632.5,1165.4 L642.4,1177.0" fill="none" stroke="#c9d9e8" stroke-width="0.9"/>
<path d="M675.0,1179.0 L656.1,1185.4 L640.7,1171.7 L643.5,1156.9 L658.9,1146.7 L675.9,1155.2 Z" fill="#e3ecf4"/>
<path d="M675.9,1155.2 L659.7,1166.3 L656.1,1185.4 M659.7,1166.3 L643.5,1156.9" fill="none" stroke="#c9d9e8" stroke-width="0.9"/>
<path d="M713.6,1169.0 L691.6,1179.2 L675.9,1163.2 L690.4,1140.8 L707.4,1145.7 Z" fill="#dde8f1"/>
<path d="M713.6,1169.0 L696.0,1161.9 L675.9,1163.2 M696.0,1161.9 L707.4,1145.7" fill="none" stroke="#c9d9e8" stroke-width="0.9"/>
<path d="M706.8,1175.6 L705.2,1152.4 L717.3,1143.0 L734.4,1149.6 L737.7,1171.4 L720.3,1181.9 Z" fill="#e3ecf4"/>
<path d="M717.3,1143.0 L720.5,1161.5 L737.7,1171.4 M720.5,1161.5 L706.8,1175.6" fill="none" stroke="#c9d9e8" stroke-width="0.9"/>
<path d="M734.8,1172.4 L736.2,1148.0 L757.5,1141.5 L771.0,1165.7 L753.7,1179.3 Z" fill="#d9e5ef"/>
<path d="M757.5,1141.5 L748.6,1164.1 L753.7,1179.3 M748.6,1164.1 L736.2,1148.0" fill="none" stroke="#c9d9e8" stroke-width="0.9"/>
<path d="M772.6,1182.7 L771.1,1154.0 L787.4,1148.3 L803.9,1162.7 L789.7,1186.9 Z" fill="#dde8f1"/>
<path d="M789.7,1186.9 L789.1,1168.1 L771.1,1154.0 M789.1,1168.1 L803.9,1162.7" fill="none" stroke="#c9d9e8" stroke-width="0.9"/>
<path d="M110.2,1206.6 L100.7,1189.8 L108.6,1172.5 L128.3,1172.7 L137.0,1184.3 L130.2,1206.8 Z" fill="#dde8f1"/>
<path d="M108.6,1172.5 L122.4,1185.9 L137.0,1184.3 M122.4,1185.9 L110.2,1206.6" fill="none" stroke="#c9d9e8" stroke-width="0.9"/>
<path d="M143.2,1204.7 L127.2,1192.5 L129.5,1172.9 L151.6,1168.8 L162.4,1180.4 L162.5,1196.9 Z" fill="#d6e3ee"/>
<path d="M162.5,1196.9 L148.4,1185.3 L127.2,1192.5 M148.4,1185.3 L151.6,1168.8" fill="none" stroke="#c9d9e8" stroke-width="0.9"/>
<path d="M165.0,1204.6 L159.4,1181.3 L177.9,1167.3 L193.8,1176.9 L187.3,1204.4 Z" fill="#e6eef5"/>
<path d="M165.0,1204.6 L173.1,1188.4 L177.9,1167.3 M173.1,1188.4 L187.3,1204.4" fill="none" stroke="#c9d9e8" stroke-width="0.9"/>
<path d="M228.2,1196.2 L205.8,1205.3 L190.9,1185.5 L209.7,1167.1 L229.4,1177.0 Z" fill="#e3ecf4"/>
<path d="M228.2,1196.2 L209.7,1186.7 L190.9,1185.5 M209.7,1186.7 L229.4,1177.0" fill="none" stroke="#c9d9e8" stroke-width="0.9"/>
<path d="M231.8,1211.4 L214.5,1201.6 L215.0,1188.9 L231.4,1171.9 L245.8,1178.7 L249.1,1201.3 Z" fill="#e6eef5"/>
<path d="M245.8,1178.7 L229.2,1191.5 L231.8,1211.4 M229.2,1191.5 L215.0,1188.9" fill="none" stroke="#c9d9e8" stroke-width="0.9"/>
<path d="M272.0,1206.7 L252.1,1200.9 L247.5,1180.1 L265.1,1165.7 L282.5,1174.9 L283.8,1195.8 Z" fill="#d9e5ef"/>
<path d="M272.0,1206.7 L268.2,1187.3 L247.5,1180.1 M268.2,1187.3 L282.5,1174.9" fill="none" stroke="#c9d9e8" stroke-width="0.9"/>
<path d="M279.7,1190.9 L278.6,1175.3 L300.0,1164.2 L313.7,1175.7 L313.9,1196.6 L296.7,1204.7 Z" fill="#dde8f1"/>
<path d="M300.0,1164.2 L295.0,1184.5 L313.9,1196.6 M295.0,1184.5 L279.7,1190.9" fill="none" stroke="#c9d9e8" stroke-width="0.9"/>
<path d="M341.3,1207.2 L313.0,1205.8 L307.8,1183.5 L325.8,1172.2 L344.7,1186.0 Z" fill="#d6e3ee"/>
<path d="M344.7,1186.0 L326.0,1191.8 L313.0,1205.8 M326.0,1191.8 L325.8,1172.2" fill="none" stroke="#c9d9e8" stroke-width="0.9"/>
<path d="M372.5,1204.3 L348.3,1208.7 L340.9,1191.3 L347.1,1174.7 L367.5,1173.3 L377.7,1185.7 Z" fill="#d6e3ee"/>
<path d="M340.9,1191.3 L362.0,1190.7 L367.5,1173.3 M362.0,1190.7 L372.5,1204.3" fill="none" stroke="#c9d9e8" stroke-width="0.9"/>
<path d="M384.3,1206.5 L366.2,1200.7 L364.5,1179.1 L381.6,1167.3 L400.0,1181.2 L397.3,1200.7 Z" fill="#dde8f1"/>
<path d="M364.5,1179.1 L383.4,1190.2 L400.0,1181.2 M383.4,1190.2 L384.3,1206.5" fill="none" stroke="#c9d9e8" stroke-width="0.9"/>
<path d="M424.0,1204.8 L401.9,1207.1 L390.3,1194.7 L400.4,1174.1 L418.2,1171.4 L429.1,1188.5 Z" fill="#e6eef5"/>
<path d="M418.2,1171.4 L413.4,1194.8 L424.0,1204.8 M413.4,1194.8 L390.3,1194.7" fill="none" stroke="#c9d9e8" stroke-width="0.9"/>
<path d="M425.9,1202.4 L428.1,1182.4 L441.1,1172.2 L462.0,1183.4 L460.1,1204.6 L440.4,1211.0 Z" fill="#dde8f1"/>
<path d="M440.4,1211.0 L447.7,1189.2 L428.1,1182.4 M447.7,1189.2 L462.0,1183.4" fill="none" stroke="#c9d9e8" stroke-width="0.9"/>
<path d="M459.6,1203.1 L452.1,1189.2 L457.1,1171.1 L482.6,1171.7 L489.6,1181.8 L484.4,1203.2 Z" fill="#dde8f1"/>
<path d="M459.6,1203.1 L469.5,1186.8 L457.1,1171.1 M469.5,1186.8 L489.6,1181.8" fill="none" stroke="#c9d9e8" stroke-width="0.9"/>
<path d="M526.2,1193.5 L509.2,1212.8 L494.1,1209.1 L488.0,1187.8 L498.0,1175.6 L515.9,1176.1 Z" fill="#e3ecf4"/>
<path d="M488.0,1187.8 L503.6,1190.0 L515.9,1176.1 M503.6,1190.0 L509.2,1212.8" fill="none" stroke="#c9d9e8" stroke-width="0.9"/>
<path d="M534.2,1212.0 L517.9,1202.3 L519.9,1178.9 L544.9,1173.2 L555.6,1198.1 Z" fill="#e6eef5"/>
<path d="M534.2,1212.0 L536.6,1191.0 L519.9,1178.9 M536.6,1191.0 L555.6,1198.1" fill="none" stroke="#c9d9e8" stroke-width="0.9"/>
<path d="M576.0,1205.4 L556.6,1208.2 L546.1,1189.7 L553.2,1173.3 L573.0,1174.3 L583.5,1189.6 Z" fill="#dde8f1"/>
<path d="M546.1,1189.7 L565.2,1189.2 L573.0,1174.3 M565.2,1189.2 L576.0,1205.4" fill="none" stroke="#c9d9e8" stroke-width="0.9"/>
<path d="M603.6,1201.1 L582.9,1206.9 L568.6,1193.5 L575.7,1172.2 L594.7,1169.4 L607.2,1181.5 Z" fill="#d9e5ef"/>
<path d="M575.7,1172.2 L592.1,1193.1 L607.2,1181.5 M592.1,1193.1 L582.9,1206.9" fill="none" stroke="#c9d9e8" stroke-width="0.9"/>
<path d="M639.4,1189.8 L626.8,1204.0 L604.5,1200.7 L598.4,1182.9 L613.8,1167.4 L631.2,1168.4 Z" fill="#d6e3ee"/>
<path d="M604.5,1200.7 L616.4,1184.7 L613.8,1167.4 M616.4,1184.7 L639.4,1189.8" fill="none" stroke="#c9d9e8" stroke-width="0.9"/>
<path d="M659.1,1199.3 L644.4,1207.7 L627.1,1192.3 L629.2,1178.1 L649.1,1167.9 L661.9,1179.0 Z" fill="#d6e3ee"/>
<path d="M661.9,1179.0 L646.8,1189.7 L644.4,1207.7 M646.8,1189.7 L629.2,1178.1" fill="none" stroke="#c9d9e8" stroke-width="0.9"/>
<path d="M695.1,1199.6 L675.3,1210.8 L659.7,1202.0 L659.4,1179.3 L681.9,1171.5 L694.1,1178.5 Z" fill="#e6eef5"/>
<path d="M675.3,1210.8 L679.8,1188.6 L659.4,1179.3 M679.8,1188.6 L694.1,1178.5" fill="none" stroke="#c9d9e8" stroke-width="0.9"/>
<path d="M706.3,1205.3 L694.0,1193.3 L700.8,1173.9 L721.0,1168.8 L730.2,1179.4 L730.2,1200.6 Z" fill="#d9e5ef"/>
<path d="M730.2,1200.6 L716.2,1189.1 L694.0,1193.3 M716.2,1189.1 L721.0,1168.8" fill="none" stroke="#c9d9e8" stroke-width="0.9"/>
<path d="M757.4,1206.9 L732.6,1208.0 L725.6,1185.5 L740.2,1174.7 L760.3,1187.5 Z" fill="#d9e5ef"/>
<path d="M725.6,1185.5 L743.0,1196.5 L760.3,1187.5 M743.0,1196.5 L732.6,1208.0" fill="none" stroke="#c9d9e8" stroke-width="0.9"/>
<path d="M789.5,1194.8 L776.2,1207.4 L753.3,1193.6 L762.4,1172.3 L786.3,1173.2 Z" fill="#dde8f1"/>
<path d="M753.3,1193.6 L769.2,1187.8 L786.3,1173.2 M769.2,1187.8 L776.2,1207.4" fill="none" stroke="#c9d9e8" stroke-width="0.9"/>
<path d="M814.8,1190.8 L797.3,1205.3 L780.4,1201.4 L776.0,1180.5 L794.3,1168.7 L810.5,1174.5 Z" fill="#d6e3ee"/>
<path d="M794.3,1168.7 L794.5,1185.9 L814.8,1190.8 M794.5,1185.9 L780.4,1201.4" fill="none" stroke="#c9d9e8" stroke-width="0.9"/>
<path d="M88.4,1225.3 L84.8,1203.1 L110.7,1193.5 L122.6,1214.1 L106.4,1229.9 Z" fill="#d6e3ee"/>
<path d="M84.8,1203.1 L105.6,1215.7 L122.6,1214.1 M105.6,1215.7 L88.4,1225.3" fill="none" stroke="#c9d9e8" stroke-width="0.9"/>
<path d="M118.6,1223.9 L119.2,1209.1 L136.6,1199.1 L153.4,1211.6 L151.6,1228.9 L129.6,1236.4 Z" fill="#dde8f1"/>
<path d="M118.6,1223.9 L132.0,1218.9 L136.6,1199.1 M132.0,1218.9 L151.6,1228.9" fill="none" stroke="#c9d9e8" stroke-width="0.9"/>
<path d="M147.7,1218.6 L156.2,1200.1 L169.3,1196.1 L184.2,1206.2 L182.4,1224.9 L163.5,1232.6 Z" fill="#dde8f1"/>
<path d="M182.4,1224.9 L171.0,1217.8 L147.7,1218.6 M171.0,1217.8 L169.3,1196.1" fill="none" stroke="#c9d9e8" stroke-width="0.9"/>
<path d="M215.0,1223.3 L200.4,1235.9 L177.9,1229.3 L176.8,1211.5 L191.5,1196.8 L207.5,1202.1 Z" fill="#d6e3ee"/>
<path d="M200.4,1235.9 L196.1,1214.6 L176.8,1211.5 M196.1,1214.6 L207.5,1202.1" fill="none" stroke="#c9d9e8" stroke-width="0.9"/>
<path d="M220.7,1235.8 L203.6,1227.5 L200.7,1210.4 L216.4,1196.7 L233.5,1205.5 L238.3,1222.9 Z" fill="#e3ecf4"/>
<path d="M200.7,1210.4 L219.1,1215.8 L233.5,1205.5 M219.1,1215.8 L220.7,1235.8" fill="none" stroke="#c9d9e8" stroke-width="0.9"/>
<path d="M240.3,1225.5 L238.7,1207.8 L259.9,1198.0 L275.1,1210.7 L269.7,1230.6 L251.5,1236.0 Z" fill="#e3ecf4"/>
<path d="M275.1,1210.7 L255.0,1215.7 L251.5,1236.0 M255.0,1215.7 L238.7,1207.8" fill="none" stroke="#c9d9e8" stroke-width="0.9"/>
<path d="M274.2,1232.5 L264.0,1217.5 L272.9,1197.3 L291.4,1195.1 L305.1,1212.9 L299.6,1228.5 Z" fill="#dde8f1"/>
<path d="M291.4,1195.1 L286.3,1215.1 L299.6,1228.5 M286.3,1215.1 L264.0,1217.5" fill="none" stroke="#c9d9e8" stroke-width="0.9"/>
<path d="M310.2,1235.3 L293.5,1229.2 L290.1,1212.4 L304.3,1197.0 L319.4,1201.5 L327.5,1219.7 Z" fill="#d6e3ee"/>
<path d="M304.3,1197.0 L309.1,1213.0 L327.5,1219.7 M309.1,1213.0 L293.5,1229.2" fill="none" stroke="#c9d9e8" stroke-width="0.9"/>
<path d="M347.6,1234.8 L325.1,1230.7 L320.2,1215.1 L334.3,1198.5 L354.1,1203.9 L358.0,1217.9 Z" fill="#e6eef5"/>
<path d="M347.6,1234.8 L335.1,1215.1 L320.2,1215.1 M335.1,1215.1 L354.1,1203.9" fill="none" stroke="#c9d9e8" stroke-width="0.9"/>
<path d="M385.8,1229.3 L366.0,1231.2 L354.4,1213.3 L362.8,1198.3 L379.5,1194.1 L392.7,1211.5 Z" fill="#dde8f1"/>
<path d="M379.5,1194.1 L372.6,1213.0 L385.8,1229.3 M372.6,1213.0 L354.4,1213.3" fill="none" stroke="#c9d9e8" stroke-width="0.9"/>
<path d="M387.5,1233.1 L379.4,1221.7 L386.6,1201.5 L410.2,1202.0 L419.0,1218.6 L411.5,1232.3 Z" fill="#d9e5ef"/>
<path d="M387.5,1233.1 L401.1,1218.3 L386.6,1201.5 M401.1,1218.3 L419.0,1218.6" fill="none" stroke="#c9d9e8" stroke-width="0.9"/>
<path d="M423.6,1229.5 L412.7,1205.2 L432.2,1191.9 L449.9,1203.1 L447.4,1225.2 Z" fill="#e6eef5"/>
<path d="M412.7,1205.2 L427.7,1212.5 L449.9,1203.1 M427.7,1212.5 L423.6,1229.5" fill="none" stroke="#c9d9e8" stroke-width="0.9"/>
<path d="M459.9,1231.2 L443.5,1227.7 L438.9,1201.1 L459.0,1194.3 L474.9,1207.2 Z" fill="#d6e3ee"/>
<path d="M459.9,1231.2 L456.0,1209.4 L438.9,1201.1 M456.0,1209.4 L474.9,1207.2" fill="none" stroke="#c9d9e8" stroke-width="0.9"/>
<path d="M475.9,1230.5 L474.4,1208.0 L485.6,1199.5 L506.2,1205.3 L510.5,1223.4 L498.9,1234.0 Z" fill="#d6e3ee"/>
<path d="M506.2,1205.3 L494.5,1218.0 L498.9,1234.0 M494.5,1218.0 L474.4,1208.0" fill="none" stroke="#c9d9e8" stroke-width="0.9"/>
<path d="M503.4,1234.2 L494.9,1216.9 L509.3,1199.6 L532.8,1208.7 L524.2,1232.2 Z" fill="#e3ecf4"/>
<path d="M532.8,1208.7 L514.8,1213.4 L503.4,1234.2 M514.8,1213.4 L509.3,1199.6" fill="none" stroke="#c9d9e8" stroke-width="0.9"/>
<path d="M531.4,1222.3 L535.9,1203.3 L553.0,1197.7 L572.1,1212.3 L568.5,1228.2 L545.8,1234.0 Z" fill="#d6e3ee"/>
<path d="M553.0,1197.7 L555.2,1215.8 L568.5,1228.2 M555.2,1215.8 L531.4,1222.3" fill="none" stroke="#c9d9e8" stroke-width="0.9"/>
<path d="M590.0,1228.4 L568.4,1233.0 L555.9,1209.5 L573.5,1196.2 L590.3,1203.8 Z" fill="#e3ecf4"/>
<path d="M590.0,1228.4 L578.5,1213.3 L555.9,1209.5 M578.5,1213.3 L590.3,1203.8" fill="none" stroke="#c9d9e8" stroke-width="0.9"/>
<path d="M619.9,1217.8 L605.6,1228.6 L588.1,1226.1 L584.0,1205.1 L596.6,1192.5 L614.7,1197.8 Z" fill="#dde8f1"/>
<path d="M588.1,1226.1 L604.4,1208.6 L596.6,1192.5 M604.4,1208.6 L619.9,1217.8" fill="none" stroke="#c9d9e8" stroke-width="0.9"/>
<path d="M660.1,1219.9 L647.1,1233.9 L623.0,1227.8 L620.8,1212.8 L637.1,1196.7 L655.5,1205.6 Z" fill="#e6eef5"/>
<path d="M637.1,1196.7 L637.4,1218.7 L660.1,1219.9 M637.4,1218.7 L623.0,1227.8" fill="none" stroke="#c9d9e8" stroke-width="0.9"/>
<path d="M644.8,1217.7 L650.7,1202.2 L671.6,1199.9 L683.0,1214.8 L676.3,1234.7 L661.1,1238.5 Z" fill="#e6eef5"/>
<path d="M644.8,1217.7 L666.1,1218.6 L671.6,1199.9 M666.1,1218.6 L676.3,1234.7" fill="none" stroke="#c9d9e8" stroke-width="0.9"/>
<path d="M713.5,1220.2 L700.1,1235.1 L684.3,1236.5 L672.5,1220.2 L686.2,1198.3 L702.2,1199.2 Z" fill="#dde8f1"/>
<path d="M700.1,1235.1 L691.6,1220.1 L672.5,1220.2 M691.6,1220.1 L702.2,1199.2" fill="none" stroke="#c9d9e8" stroke-width="0.9"/>
<path d="M740.6,1228.0 L717.2,1230.9 L708.2,1212.6 L714.0,1199.3 L735.2,1194.0 L745.6,1208.1 Z" fill="#e6eef5"/>
<path d="M717.2,1230.9 L730.7,1211.5 L714.0,1199.3 M730.7,1211.5 L745.6,1208.1" fill="none" stroke="#c9d9e8" stroke-width="0.9"/>
<path d="M769.6,1221.4 L743.4,1232.1 L732.8,1217.3 L741.3,1196.6 L764.3,1199.6 Z" fill="#dde8f1"/>
<path d="M764.3,1199.6 L748.9,1214.1 L743.4,1232.1 M748.9,1214.1 L741.3,1196.6" fill="none" stroke="#c9d9e8" stroke-width="0.9"/>
<path d="M777.9,1234.9 L759.7,1221.8 L765.8,1201.1 L786.5,1198.2 L799.5,1211.0 L792.9,1231.5 Z" fill="#d6e3ee"/>
<path d="M799.5,1211.0 L781.3,1219.1 L777.9,1234.9 M781.3,1219.1 L765.8,1201.1" fill="none" stroke="#c9d9e8" stroke-width="0.9"/>
<path d="M137.9,1240.5 L122.7,1259.9 L99.8,1250.2 L105.6,1223.4 L123.5,1220.8 Z" fill="#d9e5ef"/>
<path d="M105.6,1223.4 L116.9,1238.3 L137.9,1240.5 M116.9,1238.3 L99.8,1250.2" fill="none" stroke="#c9d9e8" stroke-width="0.9"/>
<path d="M143.7,1262.2 L126.6,1252.1 L130.0,1231.5 L143.4,1222.5 L164.0,1236.4 L162.4,1251.1 Z" fill="#e3ecf4"/>
<path d="M164.0,1236.4 L143.6,1247.2 L143.7,1262.2 M143.6,1247.2 L130.0,1231.5" fill="none" stroke="#c9d9e8" stroke-width="0.9"/>
<path d="M185.8,1256.5 L167.9,1255.9 L157.2,1236.7 L167.3,1223.9 L188.3,1223.9 L195.7,1244.7 Z" fill="#d9e5ef"/>
<path d="M167.9,1255.9 L180.2,1237.1 L167.3,1223.9 M180.2,1237.1 L195.7,1244.7" fill="none" stroke="#c9d9e8" stroke-width="0.9"/>
<path d="M216.6,1261.8 L198.0,1258.5 L189.0,1242.1 L198.4,1225.9 L220.2,1228.9 L228.1,1241.9 Z" fill="#e3ecf4"/>
<path d="M216.6,1261.8 L205.4,1241.7 L189.0,1242.1 M205.4,1241.7 L220.2,1228.9" fill="none" stroke="#c9d9e8" stroke-width="0.9"/>
<path d="M257.1,1249.3 L242.7,1262.1 L221.9,1255.4 L219.8,1237.0 L232.8,1222.8 L252.3,1230.3 Z" fill="#d9e5ef"/>
<path d="M252.3,1230.3 L237.2,1240.5 L242.7,1262.1 M237.2,1240.5 L219.8,1237.0" fill="none" stroke="#c9d9e8" stroke-width="0.9"/>
<path d="M246.6,1243.4 L254.2,1226.2 L271.2,1222.0 L287.3,1238.7 L278.0,1257.4 L262.5,1260.5 Z" fill="#dde8f1"/>
<path d="M287.3,1238.7 L269.7,1238.9 L262.5,1260.5 M269.7,1238.9 L254.2,1226.2" fill="none" stroke="#c9d9e8" stroke-width="0.9"/>
<path d="M275.8,1238.7 L286.7,1220.9 L305.7,1219.6 L315.9,1235.0 L307.2,1252.4 L291.3,1254.1 Z" fill="#d9e5ef"/>
<path d="M305.7,1219.6 L294.6,1232.7 L307.2,1252.4 M294.6,1232.7 L275.8,1238.7" fill="none" stroke="#c9d9e8" stroke-width="0.9"/>
<path d="M305.8,1240.1 L311.7,1225.1 L328.2,1218.0 L343.4,1228.6 L341.2,1249.0 L317.9,1254.5 Z" fill="#dde8f1"/>
<path d="M343.4,1228.6 L325.1,1235.5 L317.9,1254.5 M325.1,1235.5 L311.7,1225.1" fill="none" stroke="#c9d9e8" stroke-width="0.9"/>
<path d="M371.0,1245.7 L357.9,1260.5 L341.7,1260.9 L331.0,1242.4 L339.7,1226.4 L362.0,1225.5 Z" fill="#e3ecf4"/>
<path d="M331.0,1242.4 L348.7,1242.2 L362.0,1225.5 M348.7,1242.2 L357.9,1260.5" fill="none" stroke="#c9d9e8" stroke-width="0.9"/>
<path d="M377.6,1259.4 L363.0,1245.9 L366.8,1226.4 L382.9,1220.7 L399.2,1235.2 L394.8,1255.5 Z" fill="#d9e5ef"/>
<path d="M399.2,1235.2 L382.8,1240.6 L377.6,1259.4 M382.8,1240.6 L366.8,1226.4" fill="none" stroke="#c9d9e8" stroke-width="0.9"/>
<path d="M396.6,1243.8 L403.4,1226.7 L425.6,1225.0 L436.0,1235.2 L428.2,1254.8 L408.3,1258.1 Z" fill="#d6e3ee"/>
<path d="M436.0,1235.2 L415.4,1238.6 L408.3,1258.1 M415.4,1238.6 L403.4,1226.7" fill="none" stroke="#c9d9e8" stroke-width="0.9"/>
<path d="M450.5,1256.9 L426.7,1253.1 L421.1,1239.5 L434.4,1223.7 L454.6,1226.4 L461.4,1244.2 Z" fill="#e3ecf4"/>
<path d="M454.6,1226.4 L442.5,1237.3 L450.5,1256.9 M442.5,1237.3 L421.1,1239.5" fill="none" stroke="#c9d9e8" stroke-width="0.9"/>
<path d="M454.6,1250.5 L457.9,1230.7 L483.2,1224.1 L492.6,1249.2 L473.1,1262.2 Z" fill="#e6eef5"/>
<path d="M492.6,1249.2 L474.0,1246.3 L454.6,1250.5 M474.0,1246.3 L483.2,1224.1" fill="none" stroke="#c9d9e8" stroke-width="0.9"/>
<path d="M493.0,1258.4 L480.8,1244.6 L482.9,1229.6 L498.7,1220.8 L515.8,1232.6 L512.1,1254.7 Z" fill="#dde8f1"/>
<path d="M515.8,1232.6 L502.5,1238.3 L493.0,1258.4 M502.5,1238.3 L482.9,1229.6" fill="none" stroke="#c9d9e8" stroke-width="0.9"/>
<path d="M511.0,1240.5 L520.7,1221.4 L543.9,1224.2 L545.7,1247.3 L529.4,1258.9 Z" fill="#d9e5ef"/>
<path d="M545.7,1247.3 L525.9,1239.3 L511.0,1240.5 M525.9,1239.3 L543.9,1224.2" fill="none" stroke="#c9d9e8" stroke-width="0.9"/>
<path d="M574.2,1257.6 L552.1,1257.4 L546.4,1233.1 L568.7,1222.8 L583.6,1241.4 Z" fill="#dde8f1"/>
<path d="M568.7,1222.8 L561.1,1242.7 L574.2,1257.6 M561.1,1242.7 L546.4,1233.1" fill="none" stroke="#c9d9e8" stroke-width="0.9"/>
<path d="M608.2,1254.9 L591.2,1263.1 L575.4,1252.0 L575.5,1229.6 L588.7,1223.0 L606.9,1227.6 Z" fill="#e6eef5"/>
<path d="M588.7,1223.0 L591.4,1238.6 L608.2,1254.9 M591.4,1238.6 L575.4,1252.0" fill="none" stroke="#c9d9e8" stroke-width="0.9"/>
<path d="M643.8,1245.4 L625.3,1260.6 L604.6,1244.0 L612.0,1225.8 L637.7,1225.1 Z" fill="#d9e5ef"/>
<path d="M604.6,1244.0 L624.7,1238.3 L637.7,1225.1 M624.7,1238.3 L625.3,1260.6" fill="none" stroke="#c9d9e8" stroke-width="0.9"/>
<path d="M649.1,1258.8 L632.3,1246.1 L638.0,1226.0 L654.9,1222.7 L669.7,1236.3 L666.9,1251.5 Z" fill="#d6e3ee"/>
<path d="M649.1,1258.8 L652.0,1242.1 L638.0,1226.0 M652.0,1242.1 L669.7,1236.3" fill="none" stroke="#c9d9e8" stroke-width="0.9"/>
<path d="M693.6,1255.4 L674.7,1261.1 L658.6,1245.6 L670.4,1226.0 L686.6,1222.5 L699.9,1240.9 Z" fill="#d6e3ee"/>
<path d="M699.9,1240.9 L676.2,1244.1 L674.7,1261.1 M676.2,1244.1 L670.4,1226.0" fill="none" stroke="#c9d9e8" stroke-width="0.9"/>
<path d="M688.5,1245.0 L691.0,1229.5 L712.5,1221.3 L726.3,1234.0 L723.4,1252.5 L709.2,1259.6 Z" fill="#d9e5ef"/>
<path d="M726.3,1234.0 L708.3,1243.7 L709.2,1259.6 M708.3,1243.7 L691.0,1229.5" fill="none" stroke="#c9d9e8" stroke-width="0.9"/>
<path d="M719.5,1246.6 L730.5,1225.0 L746.8,1226.6 L758.9,1245.8 L746.8,1260.0 L727.3,1259.3 Z" fill="#d6e3ee"/>
<path d="M746.8,1260.0 L739.2,1247.5 L719.5,1246.6 M739.2,1247.5 L746.8,1226.6" fill="none" stroke="#c9d9e8" stroke-width="0.9"/>
<path d="M751.7,1247.2 L756.9,1227.9 L784.5,1231.2 L786.8,1252.4 L765.7,1261.1 Z" fill="#e6eef5"/>
<path d="M784.5,1231.2 L772.8,1241.5 L765.7,1261.1 M772.8,1241.5 L756.9,1227.9" fill="none" stroke="#c9d9e8" stroke-width="0.9"/>
<path d="M796.5,1257.8 L785.5,1246.7 L784.3,1229.2 L807.2,1220.2 L818.6,1231.6 L816.9,1248.1 Z" fill="#e3ecf4"/>
<path d="M818.6,1231.6 L797.9,1234.9 L796.5,1257.8 M797.9,1234.9 L784.3,1229.2" fill="none" stroke="#c9d9e8" stroke-width="0.9"/>
<path d="M96.7,1286.1 L87.9,1265.5 L98.0,1253.0 L117.7,1252.4 L125.2,1269.0 L112.0,1289.1 Z" fill="#e3ecf4"/>
<path d="M96.7,1286.1 L108.5,1271.8 L98.0,1253.0 M108.5,1271.8 L125.2,1269.0" fill="none" stroke="#c9d9e8" stroke-width="0.9"/>
<path d="M131.5,1281.6 L119.1,1260.7 L133.4,1245.4 L156.3,1255.7 L149.1,1277.3 Z" fill="#d6e3ee"/>
<path d="M133.4,1245.4 L135.1,1259.1 L149.1,1277.3 M135.1,1259.1 L119.1,1260.7" fill="none" stroke="#c9d9e8" stroke-width="0.9"/>
<path d="M175.7,1275.1 L159.1,1284.8 L143.5,1276.4 L142.1,1256.3 L159.5,1246.3 L176.7,1256.3 Z" fill="#e6eef5"/>
<path d="M175.7,1275.1 L162.3,1263.9 L143.5,1276.4 M162.3,1263.9 L159.5,1246.3" fill="none" stroke="#c9d9e8" stroke-width="0.9"/>
<path d="M186.5,1283.4 L171.9,1271.7 L175.4,1251.5 L195.5,1243.6 L206.9,1254.6 L205.7,1277.0 Z" fill="#dde8f1"/>
<path d="M206.9,1254.6 L186.1,1260.3 L186.5,1283.4 M186.1,1260.3 L175.4,1251.5" fill="none" stroke="#c9d9e8" stroke-width="0.9"/>
<path d="M217.6,1288.3 L201.5,1274.5 L201.3,1256.3 L224.8,1249.8 L236.2,1256.7 L236.1,1279.1 Z" fill="#e6eef5"/>
<path d="M201.5,1274.5 L219.6,1266.0 L224.8,1249.8 M219.6,1266.0 L236.1,1279.1" fill="none" stroke="#c9d9e8" stroke-width="0.9"/>
<path d="M259.2,1289.6 L240.9,1283.8 L235.5,1264.6 L251.7,1248.5 L268.6,1254.5 L274.7,1276.5 Z" fill="#e3ecf4"/>
<path d="M259.2,1289.6 L253.1,1267.2 L235.5,1264.6 M253.1,1267.2 L268.6,1254.5" fill="none" stroke="#c9d9e8" stroke-width="0.9"/>
<path d="M292.8,1280.0 L274.4,1286.2 L258.8,1270.3 L266.3,1250.8 L283.0,1247.1 L299.0,1263.9 Z" fill="#e3ecf4"/>
<path d="M258.8,1270.3 L276.5,1266.3 L283.0,1247.1 M276.5,1266.3 L292.8,1280.0" fill="none" stroke="#c9d9e8" stroke-width="0.9"/>
<path d="M296.0,1272.2 L296.4,1249.6 L312.9,1244.8 L332.7,1257.1 L326.2,1275.3 L308.3,1282.0 Z" fill="#e6eef5"/>
<path d="M296.4,1249.6 L316.7,1261.4 L332.7,1257.1 M316.7,1261.4 L308.3,1282.0" fill="none" stroke="#c9d9e8" stroke-width="0.9"/>
<path d="M329.1,1284.0 L327.7,1260.6 L350.7,1251.5 L363.8,1271.9 L350.9,1287.9 Z" fill="#e6eef5"/>
<path d="M350.7,1251.5 L348.3,1265.9 L350.9,1287.9 M348.3,1265.9 L327.7,1260.6" fill="none" stroke="#c9d9e8" stroke-width="0.9"/>
<path d="M381.3,1281.0 L368.0,1289.5 L348.4,1277.1 L353.6,1257.5 L372.1,1251.9 L385.0,1258.1 Z" fill="#e3ecf4"/>
<path d="M372.1,1251.9 L366.7,1267.0 L381.3,1281.0 M366.7,1267.0 L348.4,1277.1" fill="none" stroke="#c9d9e8" stroke-width="0.9"/>
<path d="M389.5,1285.1 L377.8,1267.7 L390.6,1249.3 L410.3,1248.7 L417.2,1267.4 L413.1,1280.0 Z" fill="#dde8f1"/>
<path d="M390.6,1249.3 L396.6,1269.5 L417.2,1267.4 M396.6,1269.5 L389.5,1285.1" fill="none" stroke="#c9d9e8" stroke-width="0.9"/>
<path d="M434.0,1288.4 L418.4,1278.0 L417.5,1256.7 L434.7,1248.8 L453.2,1259.9 L449.4,1281.7 Z" fill="#e6eef5"/>
<path d="M434.7,1248.8 L432.4,1267.9 L449.4,1281.7 M432.4,1267.9 L418.4,1278.0" fill="none" stroke="#c9d9e8" stroke-width="0.9"/>
<path d="M462.6,1283.2 L443.9,1283.5 L435.0,1265.9 L451.6,1246.8 L468.0,1251.1 L473.7,1266.6 Z" fill="#dde8f1"/>
<path d="M462.6,1283.2 L457.8,1267.6 L435.0,1265.9 M457.8,1267.6 L468.0,1251.1" fill="none" stroke="#c9d9e8" stroke-width="0.9"/>
<path d="M493.5,1284.1 L471.7,1276.6 L471.9,1252.9 L494.4,1245.5 L507.2,1264.7 Z" fill="#d6e3ee"/>
<path d="M494.4,1245.5 L485.9,1265.6 L493.5,1284.1 M485.9,1265.6 L471.9,1252.9" fill="none" stroke="#c9d9e8" stroke-width="0.9"/>
<path d="M526.7,1281.6 L504.6,1282.2 L496.3,1260.8 L507.6,1245.4 L528.4,1249.6 L535.0,1263.9 Z" fill="#d9e5ef"/>
<path d="M528.4,1249.6 L515.0,1265.0 L526.7,1281.6 M515.0,1265.0 L496.3,1260.8" fill="none" stroke="#c9d9e8" stroke-width="0.9"/>
<path d="M567.3,1267.9 L556.8,1278.9 L536.3,1277.8 L528.8,1260.7 L539.9,1243.0 L564.4,1249.1 Z" fill="#dde8f1"/>
<path d="M536.3,1277.8 L548.0,1264.7 L539.9,1243.0 M548.0,1264.7 L567.3,1267.9" fill="none" stroke="#c9d9e8" stroke-width="0.9"/>
<path d="M595.0,1270.1 L582.3,1283.8 L559.8,1275.6 L559.6,1258.8 L573.0,1244.5 L593.0,1254.7 Z" fill="#e6eef5"/>
<path d="M593.0,1254.7 L579.1,1267.5 L582.3,1283.8 M579.1,1267.5 L559.6,1258.8" fill="none" stroke="#c9d9e8" stroke-width="0.9"/>
<path d="M620.3,1262.0 L609.4,1282.7 L590.0,1282.1 L581.0,1266.1 L588.6,1250.2 L611.2,1248.6 Z" fill="#d6e3ee"/>
<path d="M590.0,1282.1 L604.2,1262.6 L588.6,1250.2 M604.2,1262.6 L620.3,1262.0" fill="none" stroke="#c9d9e8" stroke-width="0.9"/>
<path d="M620.8,1278.7 L621.7,1254.4 L635.8,1245.4 L653.5,1257.2 L654.7,1272.6 L637.4,1286.3 Z" fill="#d9e5ef"/>
<path d="M653.5,1257.2 L635.8,1266.9 L637.4,1286.3 M635.8,1266.9 L621.7,1254.4" fill="none" stroke="#c9d9e8" stroke-width="0.9"/>
<path d="M669.9,1287.2 L647.4,1283.4 L640.5,1264.8 L650.2,1252.2 L669.2,1253.9 L679.2,1272.9 Z" fill="#d6e3ee"/>
<path d="M650.2,1252.2 L660.2,1273.0 L679.2,1272.9 M660.2,1273.0 L647.4,1283.4" fill="none" stroke="#c9d9e8" stroke-width="0.9"/>
<path d="M716.6,1277.2 L694.8,1289.0 L678.3,1271.4 L683.3,1255.9 L706.8,1251.8 Z" fill="#dde8f1"/>
<path d="M694.8,1289.0 L698.8,1268.9 L683.3,1255.9 M698.8,1268.9 L716.6,1277.2" fill="none" stroke="#c9d9e8" stroke-width="0.9"/>
<path d="M701.3,1270.0 L708.6,1247.8 L730.3,1246.3 L736.0,1271.5 L717.8,1284.7 Z" fill="#e3ecf4"/>
<path d="M717.8,1284.7 L719.1,1266.6 L708.6,1247.8 M719.1,1266.6 L736.0,1271.5" fill="none" stroke="#c9d9e8" stroke-width="0.9"/>
<path d="M737.2,1282.6 L729.3,1264.0 L741.0,1248.2 L763.1,1253.4 L767.4,1268.1 L754.9,1284.9 Z" fill="#d6e3ee"/>
<path d="M741.0,1248.2 L748.5,1264.8 L767.4,1268.1 M748.5,1264.8 L737.2,1282.6" fill="none" stroke="#c9d9e8" stroke-width="0.9"/>
<path d="M791.7,1279.0 L774.7,1281.6 L762.7,1270.8 L768.0,1246.2 L787.8,1245.7 L797.1,1256.4 Z" fill="#d6e3ee"/>
<path d="M797.1,1256.4 L779.0,1262.7 L774.7,1281.6 M779.0,1262.7 L768.0,1246.2" fill="none" stroke="#c9d9e8" stroke-width="0.9"/>
</g>
</g>
</g>

<path d="M1383,92.3 L1392,92.3 L1392,143 L1382,143 L1382,104.5 L1372.3,111.4 L1367.8,105.3 Z" fill="#1a1a1a"/>
<!-- ===== Texts ===== -->
<g font-family="Liberation Sans" fill="#2a5290" stroke="#2a5290" stroke-width="0.5">
<text x="771" y="37.6" font-size="42" textLength="401" lengthAdjust="spacingAndGlyphs" fill="#36649f" stroke="#36649f" stroke-width="0.3">Stab to the middle of</text>
<text x="771" y="84.6" font-size="42" textLength="243" lengthAdjust="spacingAndGlyphs" fill="#36649f" stroke="#36649f" stroke-width="0.3">the forehead</text>
<text x="1032" y="542" font-size="57" textLength="450" lengthAdjust="spacingAndGlyphs">Fish body will jerk</text>
<text x="1032" y="602" font-size="57" textLength="385" lengthAdjust="spacingAndGlyphs">when the point</text>
<text x="1032" y="663" font-size="57" textLength="453" lengthAdjust="spacingAndGlyphs">touches the nerve</text>
<text x="1032" y="842" font-size="58" textLength="440" lengthAdjust="spacingAndGlyphs">Abdominal cavity</text>
<text x="280" y="837" font-size="58" textLength="248" lengthAdjust="spacingAndGlyphs">Backbone</text>
<text x="302" y="1120" font-size="51" textLength="280" lengthAdjust="spacingAndGlyphs" fill="#2b5089" stroke="none">Chill at 0-5℃</text>
</g>
<g font-family="Liberation Sans" fill="#c8313a" stroke="#c8313a" stroke-width="0.6">
<text x="1031" y="468" font-size="58.7" textLength="231" lengthAdjust="spacingAndGlyphs">Aim here</text>
<text x="280" y="661" font-size="58" textLength="143" lengthAdjust="spacingAndGlyphs">Spine</text>
</g>

</svg>
</body></html>
